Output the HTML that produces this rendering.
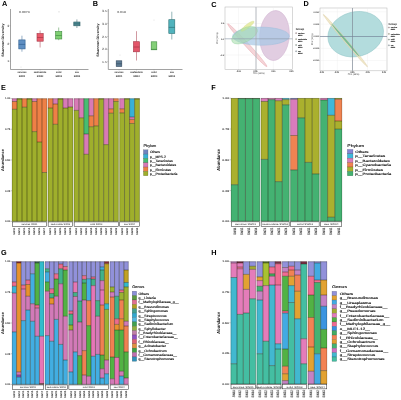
<!DOCTYPE html>
<html><head><meta charset="utf-8"><title>Figure</title>
<style>
html,body{margin:0;padding:0;background:#fff;}
body{width:401px;height:400px;overflow:hidden;}
svg{display:block;font-family:"Liberation Sans", sans-serif;filter:blur(0.33px);text-rendering:geometricPrecision;}
</style></head>
<body>
<svg width="401" height="400" viewBox="0 0 401 400">
<rect x="0" y="0" width="401" height="400" fill="#fff"/>
<text transform="translate(2.00 5.90)" font-size="7.3" fill="#000" text-anchor="start" font-weight="bold" >A</text>
<text transform="translate(92.80 6.30)" font-size="7.3" fill="#000" text-anchor="start" font-weight="bold" >B</text>
<text transform="translate(211.20 6.50)" font-size="7.3" fill="#000" text-anchor="start" font-weight="bold" >C</text>
<text transform="translate(303.50 6.30)" font-size="7.3" fill="#000" text-anchor="start" font-weight="bold" >D</text>
<text transform="translate(1.00 90.00)" font-size="7.3" fill="#000" text-anchor="start" font-weight="bold" >E</text>
<text transform="translate(211.20 90.00)" font-size="7.3" fill="#000" text-anchor="start" font-weight="bold" >F</text>
<text transform="translate(1.00 255.00)" font-size="7.3" fill="#000" text-anchor="start" font-weight="bold" >G</text>
<text transform="translate(211.20 254.80)" font-size="7.3" fill="#000" text-anchor="start" font-weight="bold" >H</text>
<line x1="10.50" y1="9.00" x2="10.50" y2="69.50" stroke="#8a8a8a" stroke-width="0.8" />
<line x1="10.50" y1="69.50" x2="88.50" y2="69.50" stroke="#8a8a8a" stroke-width="0.8" />
<line x1="9.50" y1="25.70" x2="10.50" y2="25.70" stroke="#8a8a8a" stroke-width="0.5" />
<text transform="translate(9.10 26.80) scale(1.120 1)" font-size="3.1" fill="#333" text-anchor="end" font-weight="normal" >3</text>
<line x1="9.50" y1="43.70" x2="10.50" y2="43.70" stroke="#8a8a8a" stroke-width="0.5" />
<text transform="translate(9.10 44.80) scale(1.120 1)" font-size="3.1" fill="#333" text-anchor="end" font-weight="normal" >2</text>
<line x1="9.50" y1="61.20" x2="10.50" y2="61.20" stroke="#8a8a8a" stroke-width="0.5" />
<text transform="translate(9.10 62.30) scale(1.120 1)" font-size="3.1" fill="#333" text-anchor="end" font-weight="normal" >1</text>
<text transform="translate(4.00 40.05) scale(0.900 1) rotate(-90)" font-size="3.8" fill="#1a1a1a" text-anchor="middle" font-weight="bold" >Shannon Diversity</text>
<text transform="translate(19.00 13.20) scale(1.200 1)" font-size="2.9" fill="#333" text-anchor="start" font-weight="normal" >0.0074</text>
<line x1="21.95" y1="35.70" x2="21.95" y2="39.90" stroke="#2f5f8f" stroke-width="0.5" />
<line x1="21.95" y1="48.90" x2="21.95" y2="51.70" stroke="#2f5f8f" stroke-width="0.5" />
<rect x="18.80" y="39.90" width="6.30" height="9.00" fill="#5f8fc2" stroke="#2f5f8f" stroke-width="0.6" />
<line x1="18.80" y1="44.40" x2="25.10" y2="44.40" stroke="#2f5f8f" stroke-width="0.65" />
<line x1="40.10" y1="30.50" x2="40.10" y2="33.50" stroke="#a33343" stroke-width="0.5" />
<line x1="40.10" y1="41.20" x2="40.10" y2="47.50" stroke="#a33343" stroke-width="0.5" />
<rect x="37.00" y="33.50" width="6.20" height="7.70" fill="#e85a6a" stroke="#a33343" stroke-width="0.6" />
<line x1="37.00" y1="37.50" x2="43.20" y2="37.50" stroke="#a33343" stroke-width="0.65" />
<line x1="58.70" y1="27.50" x2="58.70" y2="31.50" stroke="#3f8a3f" stroke-width="0.5" />
<line x1="58.70" y1="39.00" x2="58.70" y2="40.20" stroke="#3f8a3f" stroke-width="0.5" />
<rect x="55.60" y="31.50" width="6.20" height="7.50" fill="#7fcf72" stroke="#3f8a3f" stroke-width="0.6" />
<line x1="55.60" y1="35.50" x2="61.80" y2="35.50" stroke="#3f8a3f" stroke-width="0.65" />
<line x1="76.90" y1="19.40" x2="76.90" y2="22.00" stroke="#2c5a62" stroke-width="0.5" />
<line x1="76.90" y1="25.80" x2="76.90" y2="28.00" stroke="#2c5a62" stroke-width="0.5" />
<rect x="73.80" y="22.00" width="6.20" height="3.80" fill="#52909a" stroke="#2c5a62" stroke-width="0.6" />
<line x1="73.80" y1="23.90" x2="80.00" y2="23.90" stroke="#2c5a62" stroke-width="0.65" />
<line x1="21.90" y1="69.50" x2="21.90" y2="70.40" stroke="#8a8a8a" stroke-width="0.45" />
<text transform="translate(21.90 73.40) scale(0.900 1)" font-size="2.5" fill="#222" text-anchor="middle" font-weight="bold" >services</text>
<text transform="translate(21.90 76.60)" font-size="2.4" fill="#222" text-anchor="middle" font-weight="bold" >SW01</text>
<line x1="40.10" y1="69.50" x2="40.10" y2="70.40" stroke="#8a8a8a" stroke-width="0.45" />
<text transform="translate(40.10 73.40) scale(0.900 1)" font-size="2.5" fill="#222" text-anchor="middle" font-weight="bold" >seafoodsite</text>
<text transform="translate(40.10 76.60)" font-size="2.4" fill="#222" text-anchor="middle" font-weight="bold" >SW02</text>
<line x1="58.70" y1="69.50" x2="58.70" y2="70.40" stroke="#8a8a8a" stroke-width="0.45" />
<text transform="translate(58.70 73.40) scale(0.900 1)" font-size="2.5" fill="#222" text-anchor="middle" font-weight="bold" >solid</text>
<text transform="translate(58.70 76.60)" font-size="2.4" fill="#222" text-anchor="middle" font-weight="bold" >SW03</text>
<line x1="76.90" y1="69.50" x2="76.90" y2="70.40" stroke="#8a8a8a" stroke-width="0.45" />
<text transform="translate(76.90 73.40) scale(0.900 1)" font-size="2.5" fill="#222" text-anchor="middle" font-weight="bold" >sea</text>
<text transform="translate(76.90 76.60)" font-size="2.4" fill="#222" text-anchor="middle" font-weight="bold" >SW04</text>
<circle cx="59" cy="11.8" r="0.6" fill="#ccc"/>
<circle cx="21" cy="67" r="0.6" fill="#ddd"/>
<line x1="108.30" y1="9.00" x2="108.30" y2="69.50" stroke="#8a8a8a" stroke-width="0.8" />
<line x1="108.30" y1="69.50" x2="182.50" y2="69.50" stroke="#8a8a8a" stroke-width="0.8" />
<line x1="107.30" y1="11.00" x2="108.30" y2="11.00" stroke="#8a8a8a" stroke-width="0.5" />
<text transform="translate(106.90 12.10) scale(1.120 1)" font-size="3.1" fill="#333" text-anchor="end" font-weight="normal" >3.5</text>
<line x1="107.30" y1="23.40" x2="108.30" y2="23.40" stroke="#8a8a8a" stroke-width="0.5" />
<text transform="translate(106.90 24.50) scale(1.120 1)" font-size="3.1" fill="#333" text-anchor="end" font-weight="normal" >3.0</text>
<line x1="107.30" y1="36.50" x2="108.30" y2="36.50" stroke="#8a8a8a" stroke-width="0.5" />
<text transform="translate(106.90 37.60) scale(1.120 1)" font-size="3.1" fill="#333" text-anchor="end" font-weight="normal" >2.5</text>
<line x1="107.30" y1="49.30" x2="108.30" y2="49.30" stroke="#8a8a8a" stroke-width="0.5" />
<text transform="translate(106.90 50.40) scale(1.120 1)" font-size="3.1" fill="#333" text-anchor="end" font-weight="normal" >2.0</text>
<line x1="107.30" y1="61.70" x2="108.30" y2="61.70" stroke="#8a8a8a" stroke-width="0.5" />
<text transform="translate(106.90 62.80) scale(1.120 1)" font-size="3.1" fill="#333" text-anchor="end" font-weight="normal" >1.5</text>
<text transform="translate(98.80 40.05) scale(0.900 1) rotate(-90)" font-size="3.8" fill="#1a1a1a" text-anchor="middle" font-weight="bold" >Shannon Diversity</text>
<text transform="translate(117.20 13.40) scale(1.200 1)" font-size="2.9" fill="#333" text-anchor="start" font-weight="normal" >0.018</text>
<rect x="116.20" y="60.80" width="5.60" height="5.70" fill="#5d7b93" stroke="#34495e" stroke-width="0.6" />
<line x1="116.20" y1="63.80" x2="121.80" y2="63.80" stroke="#34495e" stroke-width="0.65" />
<line x1="136.50" y1="31.20" x2="136.50" y2="41.70" stroke="#a33343" stroke-width="0.5" />
<line x1="136.50" y1="51.80" x2="136.50" y2="60.50" stroke="#a33343" stroke-width="0.5" />
<rect x="133.50" y="41.70" width="6.00" height="10.10" fill="#e3566a" stroke="#a33343" stroke-width="0.6" />
<line x1="133.50" y1="47.00" x2="139.50" y2="47.00" stroke="#a33343" stroke-width="0.65" />
<rect x="151.20" y="41.80" width="5.60" height="8.00" fill="#84cf78" stroke="#3f8a3f" stroke-width="0.6" />
<line x1="151.20" y1="49.40" x2="156.80" y2="49.40" stroke="#3f8a3f" stroke-width="0.65" />
<line x1="171.80" y1="11.70" x2="171.80" y2="19.70" stroke="#2a6e72" stroke-width="0.5" />
<line x1="171.80" y1="33.50" x2="171.80" y2="39.50" stroke="#2a6e72" stroke-width="0.5" />
<rect x="168.80" y="19.70" width="6.00" height="13.80" fill="#50b3bd" stroke="#2a6e72" stroke-width="0.6" />
<line x1="168.80" y1="27.40" x2="174.80" y2="27.40" stroke="#2a6e72" stroke-width="0.65" />
<line x1="119.00" y1="69.50" x2="119.00" y2="70.40" stroke="#8a8a8a" stroke-width="0.45" />
<text transform="translate(119.00 73.40) scale(0.900 1)" font-size="2.5" fill="#222" text-anchor="middle" font-weight="bold" >services</text>
<text transform="translate(119.00 76.60)" font-size="2.4" fill="#222" text-anchor="middle" font-weight="bold" >SW01</text>
<line x1="136.50" y1="69.50" x2="136.50" y2="70.40" stroke="#8a8a8a" stroke-width="0.45" />
<text transform="translate(136.50 73.40) scale(0.900 1)" font-size="2.5" fill="#222" text-anchor="middle" font-weight="bold" >seafoodsite</text>
<text transform="translate(136.50 76.60)" font-size="2.4" fill="#222" text-anchor="middle" font-weight="bold" >SW02</text>
<line x1="154.00" y1="69.50" x2="154.00" y2="70.40" stroke="#8a8a8a" stroke-width="0.45" />
<text transform="translate(154.00 73.40) scale(0.900 1)" font-size="2.5" fill="#222" text-anchor="middle" font-weight="bold" >solid</text>
<text transform="translate(154.00 76.60)" font-size="2.4" fill="#222" text-anchor="middle" font-weight="bold" >SW03</text>
<line x1="171.75" y1="69.50" x2="171.75" y2="70.40" stroke="#8a8a8a" stroke-width="0.45" />
<text transform="translate(171.75 73.40) scale(0.900 1)" font-size="2.5" fill="#222" text-anchor="middle" font-weight="bold" >sea</text>
<text transform="translate(171.75 76.60)" font-size="2.4" fill="#222" text-anchor="middle" font-weight="bold" >SW04</text>
<circle cx="154" cy="20" r="0.6" fill="#ddd"/>
<circle cx="120" cy="55" r="0.6" fill="#ddd"/>
<rect x="225.00" y="7.00" width="67.50" height="62.50" fill="#fff" stroke="#b8b8b8" stroke-width="0.55" />
<line x1="238.50" y1="7.00" x2="238.50" y2="69.50" stroke="#ececec" stroke-width="0.35" />
<line x1="273.40" y1="7.00" x2="273.40" y2="69.50" stroke="#ececec" stroke-width="0.35" />
<line x1="225.00" y1="23.50" x2="292.50" y2="23.50" stroke="#ececec" stroke-width="0.35" />
<line x1="225.00" y1="55.00" x2="292.50" y2="55.00" stroke="#ececec" stroke-width="0.35" />
<g>
<ellipse cx="247.3" cy="45.2" rx="29" ry="1.9" fill="#f4d0d4" fill-opacity="0.9" stroke="#e8a6ae" stroke-width="0.5" transform="rotate(47.5 247.3 45.2)"/>
<ellipse cx="274.5" cy="35.5" rx="14.8" ry="25" fill="#dfcadf" fill-opacity="0.95" stroke="#cfb0cf" stroke-width="0.5" transform="rotate(4 274.5 35.5)"/>
<ellipse cx="261" cy="36.2" rx="28.4" ry="9.1" fill="#a6c8e6" fill-opacity="0.7" stroke="#98bcd8" stroke-width="0.4"/>
<ellipse cx="247.5" cy="26.2" rx="8" ry="1.9" fill="#e4ea9e" fill-opacity="0.9" stroke="#d2da88" stroke-width="0.4" transform="rotate(-37 247.5 26.2)"/>
<ellipse cx="244.5" cy="35.2" rx="14" ry="6.8" fill="#a2dca8" fill-opacity="0.55" stroke="#8ccf98" stroke-width="0.35" transform="rotate(-27 244.5 35.2)"/>
</g>
<line x1="256.00" y1="7.00" x2="256.00" y2="69.50" stroke="#b4b8be" stroke-width="1.0" />
<line x1="225.00" y1="38.80" x2="292.50" y2="38.80" stroke="#8f9cac" stroke-width="0.65" />
<line x1="224.20" y1="23.50" x2="225.00" y2="23.50" stroke="#999" stroke-width="0.4" />
<text transform="translate(223.80 24.25)" font-size="2.1" fill="#444" text-anchor="end" font-weight="normal" stroke="#444" stroke-width="0.08">0.2</text>
<line x1="224.20" y1="38.80" x2="225.00" y2="38.80" stroke="#999" stroke-width="0.4" />
<text transform="translate(223.80 39.55)" font-size="2.1" fill="#444" text-anchor="end" font-weight="normal" stroke="#444" stroke-width="0.08">0.0</text>
<line x1="224.20" y1="55.00" x2="225.00" y2="55.00" stroke="#999" stroke-width="0.4" />
<text transform="translate(223.80 55.75)" font-size="2.1" fill="#444" text-anchor="end" font-weight="normal" stroke="#444" stroke-width="0.08">-0.2</text>
<line x1="238.50" y1="69.50" x2="238.50" y2="70.30" stroke="#999" stroke-width="0.4" />
<text transform="translate(238.50 72.10)" font-size="2.0" fill="#444" text-anchor="middle" font-weight="normal" stroke="#444" stroke-width="0.08">-0.25</text>
<line x1="255.50" y1="69.50" x2="255.50" y2="70.30" stroke="#999" stroke-width="0.4" />
<text transform="translate(255.50 72.10)" font-size="2.0" fill="#444" text-anchor="middle" font-weight="normal" stroke="#444" stroke-width="0.08">0.00</text>
<line x1="273.40" y1="69.50" x2="273.40" y2="70.30" stroke="#999" stroke-width="0.4" />
<text transform="translate(273.40 72.10)" font-size="2.0" fill="#444" text-anchor="middle" font-weight="normal" stroke="#444" stroke-width="0.08">0.25</text>
<line x1="291.40" y1="69.50" x2="291.40" y2="70.30" stroke="#999" stroke-width="0.4" />
<text transform="translate(291.40 72.10)" font-size="2.0" fill="#444" text-anchor="middle" font-weight="normal" stroke="#444" stroke-width="0.08">0.50</text>
<text transform="translate(258.75 74.40)" font-size="2.4" fill="#444" text-anchor="middle" font-weight="normal" >PC1 (38%)</text>
<text transform="translate(218.30 38.25) rotate(-90)" font-size="2.4" fill="#444" text-anchor="middle" font-weight="normal" >PC2 (16%)</text>
<text transform="translate(295.80 30.00)" font-size="2.8" fill="#222" text-anchor="start" font-weight="bold" >Group</text>
<circle cx="296.10" cy="33.10" r="0.55" fill="#e05060" fill-opacity="0.4" stroke="#666" stroke-width="0.4"/>
<text transform="translate(298.00 33.70)" font-size="1.6" fill="#222" text-anchor="start" font-weight="bold" stroke="#222" stroke-width="0.1">services</text>
<text transform="translate(298.00 35.90)" font-size="1.6" fill="#222" text-anchor="start" font-weight="bold" stroke="#222" stroke-width="0.1">SW01</text>
<circle cx="296.10" cy="39.10" r="0.55" fill="#c0c030" fill-opacity="0.4" stroke="#666" stroke-width="0.4"/>
<text transform="translate(298.00 39.70)" font-size="1.6" fill="#222" text-anchor="start" font-weight="bold" stroke="#222" stroke-width="0.1">seafoodsite</text>
<text transform="translate(298.00 41.90)" font-size="1.6" fill="#222" text-anchor="start" font-weight="bold" stroke="#222" stroke-width="0.1">SW02</text>
<circle cx="296.10" cy="45.00" r="0.55" fill="#30a060" fill-opacity="0.4" stroke="#666" stroke-width="0.4"/>
<text transform="translate(298.00 45.60)" font-size="1.6" fill="#222" text-anchor="start" font-weight="bold" stroke="#222" stroke-width="0.1">solid</text>
<text transform="translate(298.00 47.80)" font-size="1.6" fill="#222" text-anchor="start" font-weight="bold" stroke="#222" stroke-width="0.1">SW03</text>
<circle cx="296.10" cy="51.20" r="0.55" fill="#4090c0" fill-opacity="0.4" stroke="#666" stroke-width="0.4"/>
<text transform="translate(298.00 51.80)" font-size="1.6" fill="#222" text-anchor="start" font-weight="bold" stroke="#222" stroke-width="0.1">sea</text>
<text transform="translate(298.00 54.00)" font-size="1.6" fill="#222" text-anchor="start" font-weight="bold" stroke="#222" stroke-width="0.1">SW04</text>
<rect x="320.00" y="8.00" width="67.00" height="62.80" fill="#fff" stroke="#b8b8b8" stroke-width="0.55" />
<line x1="323.20" y1="8.00" x2="323.20" y2="70.80" stroke="#ececec" stroke-width="0.35" />
<line x1="337.30" y1="8.00" x2="337.30" y2="70.80" stroke="#ececec" stroke-width="0.35" />
<line x1="352.40" y1="8.00" x2="352.40" y2="70.80" stroke="#ececec" stroke-width="0.35" />
<line x1="367.50" y1="8.00" x2="367.50" y2="70.80" stroke="#ececec" stroke-width="0.35" />
<line x1="320.00" y1="11.80" x2="387.00" y2="11.80" stroke="#ececec" stroke-width="0.35" />
<line x1="320.00" y1="24.20" x2="387.00" y2="24.20" stroke="#ececec" stroke-width="0.35" />
<line x1="320.00" y1="36.20" x2="387.00" y2="36.20" stroke="#ececec" stroke-width="0.35" />
<line x1="320.00" y1="48.40" x2="387.00" y2="48.40" stroke="#ececec" stroke-width="0.35" />
<line x1="320.00" y1="60.50" x2="387.00" y2="60.50" stroke="#ececec" stroke-width="0.35" />
<ellipse cx="355.7" cy="34.2" rx="28.2" ry="22.3" fill="#acd9da" fill-opacity="0.92" stroke="#90c4c6" stroke-width="0.5" transform="rotate(-15.3 355.7 34.2)"/>
<ellipse cx="345.4" cy="40.6" rx="34.2" ry="1.45" fill="#efe4c0" fill-opacity="0.85" stroke="#d9c9a0" stroke-width="0.4" transform="rotate(49.8 345.4 40.6)"/>
<ellipse cx="345.4" cy="40.2" rx="21.5" ry="1.0" fill="#5fb088" fill-opacity="0.8" transform="rotate(49.5 345.4 40.2)"/>
<line x1="352.50" y1="8.00" x2="352.50" y2="70.80" stroke="#7f8a96" stroke-width="0.7" />
<line x1="320.00" y1="36.50" x2="387.00" y2="36.50" stroke="#75859a" stroke-width="0.7" />
<line x1="319.20" y1="11.80" x2="320.00" y2="11.80" stroke="#999" stroke-width="0.4" />
<text transform="translate(318.80 12.55)" font-size="2.1" fill="#444" text-anchor="end" font-weight="normal" stroke="#444" stroke-width="0.08">0.010</text>
<line x1="319.20" y1="24.20" x2="320.00" y2="24.20" stroke="#999" stroke-width="0.4" />
<text transform="translate(318.80 24.95)" font-size="2.1" fill="#444" text-anchor="end" font-weight="normal" stroke="#444" stroke-width="0.08">0.005</text>
<line x1="319.20" y1="36.20" x2="320.00" y2="36.20" stroke="#999" stroke-width="0.4" />
<text transform="translate(318.80 36.95)" font-size="2.1" fill="#444" text-anchor="end" font-weight="normal" stroke="#444" stroke-width="0.08">0.000</text>
<line x1="319.20" y1="48.40" x2="320.00" y2="48.40" stroke="#999" stroke-width="0.4" />
<text transform="translate(318.80 49.15)" font-size="2.1" fill="#444" text-anchor="end" font-weight="normal" stroke="#444" stroke-width="0.08">-0.005</text>
<line x1="319.20" y1="60.50" x2="320.00" y2="60.50" stroke="#999" stroke-width="0.4" />
<text transform="translate(318.80 61.25)" font-size="2.1" fill="#444" text-anchor="end" font-weight="normal" stroke="#444" stroke-width="0.08">-0.010</text>
<line x1="321.70" y1="70.80" x2="321.70" y2="71.60" stroke="#999" stroke-width="0.4" />
<text transform="translate(321.70 73.40)" font-size="2.0" fill="#444" text-anchor="middle" font-weight="normal" stroke="#444" stroke-width="0.08">-0.02</text>
<line x1="336.60" y1="70.80" x2="336.60" y2="71.60" stroke="#999" stroke-width="0.4" />
<text transform="translate(336.60 73.40)" font-size="2.0" fill="#444" text-anchor="middle" font-weight="normal" stroke="#444" stroke-width="0.08">-0.01</text>
<line x1="352.40" y1="70.80" x2="352.40" y2="71.60" stroke="#999" stroke-width="0.4" />
<text transform="translate(352.40 73.40)" font-size="2.0" fill="#444" text-anchor="middle" font-weight="normal" stroke="#444" stroke-width="0.08">0.00</text>
<line x1="367.70" y1="70.80" x2="367.70" y2="71.60" stroke="#999" stroke-width="0.4" />
<text transform="translate(367.70 73.40)" font-size="2.0" fill="#444" text-anchor="middle" font-weight="normal" stroke="#444" stroke-width="0.08">0.01</text>
<line x1="384.00" y1="70.80" x2="384.00" y2="71.60" stroke="#999" stroke-width="0.4" />
<text transform="translate(384.00 73.40)" font-size="2.0" fill="#444" text-anchor="middle" font-weight="normal" stroke="#444" stroke-width="0.08">0.02</text>
<text transform="translate(353.50 75.20)" font-size="2.4" fill="#444" text-anchor="middle" font-weight="normal" >PC1 (38%)</text>
<text transform="translate(312.50 39.40) rotate(-90)" font-size="2.4" fill="#444" text-anchor="middle" font-weight="normal" >PC2 (16%)</text>
<text transform="translate(388.60 24.50)" font-size="2.8" fill="#222" text-anchor="start" font-weight="bold" >Group</text>
<circle cx="388.90" cy="27.50" r="0.55" fill="#e05060" fill-opacity="0.4" stroke="#666" stroke-width="0.4"/>
<text transform="translate(390.80 28.10)" font-size="1.6" fill="#222" text-anchor="start" font-weight="bold" stroke="#222" stroke-width="0.1">services</text>
<text transform="translate(390.80 30.30)" font-size="1.6" fill="#222" text-anchor="start" font-weight="bold" stroke="#222" stroke-width="0.1">SW01</text>
<circle cx="388.90" cy="33.90" r="0.55" fill="#c0c030" fill-opacity="0.4" stroke="#666" stroke-width="0.4"/>
<text transform="translate(390.80 34.50)" font-size="1.6" fill="#222" text-anchor="start" font-weight="bold" stroke="#222" stroke-width="0.1">seafoodsite</text>
<text transform="translate(390.80 36.70)" font-size="1.6" fill="#222" text-anchor="start" font-weight="bold" stroke="#222" stroke-width="0.1">SW02</text>
<circle cx="388.90" cy="39.60" r="0.55" fill="#30a060" fill-opacity="0.4" stroke="#666" stroke-width="0.4"/>
<text transform="translate(390.80 40.20)" font-size="1.6" fill="#222" text-anchor="start" font-weight="bold" stroke="#222" stroke-width="0.1">solid</text>
<text transform="translate(390.80 42.40)" font-size="1.6" fill="#222" text-anchor="start" font-weight="bold" stroke="#222" stroke-width="0.1">SW03</text>
<circle cx="388.90" cy="45.30" r="0.55" fill="#4090c0" fill-opacity="0.4" stroke="#666" stroke-width="0.4"/>
<text transform="translate(390.80 45.90)" font-size="1.6" fill="#222" text-anchor="start" font-weight="bold" stroke="#222" stroke-width="0.1">sea</text>
<text transform="translate(390.80 48.10)" font-size="1.6" fill="#222" text-anchor="start" font-weight="bold" stroke="#222" stroke-width="0.1">SW04</text>
<line x1="10.60" y1="98.50" x2="11.80" y2="98.50" stroke="#777" stroke-width="0.45" />
<text transform="translate(10.10 99.40)" font-size="2.6" fill="#555" text-anchor="end" font-weight="normal" stroke="#555" stroke-width="0.12">1.00</text>
<line x1="10.60" y1="129.25" x2="11.80" y2="129.25" stroke="#777" stroke-width="0.45" />
<text transform="translate(10.10 130.15)" font-size="2.6" fill="#555" text-anchor="end" font-weight="normal" stroke="#555" stroke-width="0.12">0.75</text>
<line x1="10.60" y1="160.00" x2="11.80" y2="160.00" stroke="#777" stroke-width="0.45" />
<text transform="translate(10.10 160.90)" font-size="2.6" fill="#555" text-anchor="end" font-weight="normal" stroke="#555" stroke-width="0.12">0.50</text>
<line x1="10.60" y1="190.75" x2="11.80" y2="190.75" stroke="#777" stroke-width="0.45" />
<text transform="translate(10.10 191.65)" font-size="2.6" fill="#555" text-anchor="end" font-weight="normal" stroke="#555" stroke-width="0.12">0.25</text>
<line x1="10.60" y1="221.50" x2="11.80" y2="221.50" stroke="#777" stroke-width="0.45" />
<text transform="translate(10.10 222.40)" font-size="2.6" fill="#555" text-anchor="end" font-weight="normal" stroke="#555" stroke-width="0.12">0.00</text>
<text transform="translate(3.60 160.00) rotate(-90)" font-size="4.0" fill="#111" text-anchor="middle" font-weight="bold" >Abundance</text>
<rect x="12.00" y="98.50" width="4.99" height="3.00" fill="#d87ab6" />
<rect x="12.00" y="101.50" width="4.99" height="7.80" fill="#ee8046" />
<rect x="12.00" y="109.30" width="4.99" height="112.20" fill="#9faf2c" />
<line x1="12.00" y1="101.50" x2="16.99" y2="101.50" stroke="rgba(20,20,0,0.55)" stroke-width="0.7" />
<line x1="12.00" y1="109.30" x2="16.99" y2="109.30" stroke="rgba(20,20,0,0.55)" stroke-width="0.7" />
<rect x="16.99" y="98.50" width="4.99" height="0.40" fill="#9faf2c" />
<rect x="16.99" y="98.90" width="4.99" height="122.60" fill="#9faf2c" />
<line x1="16.99" y1="98.90" x2="21.99" y2="98.90" stroke="rgba(20,20,0,0.55)" stroke-width="0.7" />
<rect x="21.99" y="98.50" width="4.99" height="8.70" fill="#ee8046" />
<rect x="21.99" y="107.20" width="4.99" height="114.30" fill="#9faf2c" />
<line x1="21.99" y1="107.20" x2="26.98" y2="107.20" stroke="rgba(20,20,0,0.55)" stroke-width="0.7" />
<rect x="26.98" y="98.50" width="4.99" height="0.40" fill="#9faf2c" />
<rect x="26.98" y="98.90" width="4.99" height="122.60" fill="#9faf2c" />
<line x1="26.98" y1="98.90" x2="31.97" y2="98.90" stroke="rgba(20,20,0,0.55)" stroke-width="0.7" />
<rect x="31.97" y="98.50" width="4.99" height="3.00" fill="#d87ab6" />
<rect x="31.97" y="101.50" width="4.99" height="30.10" fill="#ee8046" />
<rect x="31.97" y="131.60" width="4.99" height="89.90" fill="#9faf2c" />
<line x1="31.97" y1="101.50" x2="36.96" y2="101.50" stroke="rgba(20,20,0,0.55)" stroke-width="0.7" />
<line x1="31.97" y1="131.60" x2="36.96" y2="131.60" stroke="rgba(20,20,0,0.55)" stroke-width="0.7" />
<rect x="36.96" y="98.50" width="4.99" height="43.50" fill="#ee8046" />
<rect x="36.96" y="142.00" width="4.99" height="79.50" fill="#9faf2c" />
<line x1="36.96" y1="142.00" x2="41.96" y2="142.00" stroke="rgba(20,20,0,0.55)" stroke-width="0.7" />
<rect x="41.96" y="98.50" width="4.99" height="74.00" fill="#ee8046" />
<rect x="41.96" y="172.50" width="4.99" height="49.00" fill="#9faf2c" />
<line x1="41.96" y1="172.50" x2="46.95" y2="172.50" stroke="rgba(20,20,0,0.55)" stroke-width="0.7" />
<line x1="12.20" y1="98.50" x2="12.20" y2="221.50" stroke="rgba(20,20,0,0.55)" stroke-width="0.4" />
<line x1="16.99" y1="98.50" x2="16.99" y2="221.50" stroke="rgba(20,20,0,0.55)" stroke-width="0.75" />
<line x1="21.99" y1="98.50" x2="21.99" y2="221.50" stroke="rgba(20,20,0,0.55)" stroke-width="0.75" />
<line x1="26.98" y1="98.50" x2="26.98" y2="221.50" stroke="rgba(20,20,0,0.55)" stroke-width="0.75" />
<line x1="31.97" y1="98.50" x2="31.97" y2="221.50" stroke="rgba(20,20,0,0.55)" stroke-width="0.75" />
<line x1="36.96" y1="98.50" x2="36.96" y2="221.50" stroke="rgba(20,20,0,0.55)" stroke-width="0.75" />
<line x1="41.96" y1="98.50" x2="41.96" y2="221.50" stroke="rgba(20,20,0,0.55)" stroke-width="0.75" />
<line x1="46.75" y1="98.50" x2="46.75" y2="221.50" stroke="rgba(20,20,0,0.55)" stroke-width="0.4" />
<line x1="12.00" y1="98.75" x2="46.95" y2="98.75" stroke="rgba(20,20,0,0.55)" stroke-width="0.5" />
<line x1="12.00" y1="221.25" x2="46.95" y2="221.25" stroke="rgba(20,20,0,0.55)" stroke-width="0.5" />
<rect x="12.25" y="221.95" width="34.45" height="4.40" fill="#fff" stroke="#222" stroke-width="0.5" />
<text transform="translate(29.48 225.05) scale(0.950 1)" font-size="2.5" fill="#1a1a1a" text-anchor="middle" font-weight="normal" >services SW01</text>
<line x1="14.50" y1="226.40" x2="14.50" y2="227.20" stroke="#999" stroke-width="0.35" />
<text transform="translate(15.35 227.90) rotate(-90)" font-size="2.6" fill="#505050" text-anchor="end" font-weight="normal" stroke="#505050" stroke-width="0.12">SW11</text>
<line x1="19.49" y1="226.40" x2="19.49" y2="227.20" stroke="#999" stroke-width="0.35" />
<text transform="translate(20.34 227.90) rotate(-90)" font-size="2.6" fill="#505050" text-anchor="end" font-weight="normal" stroke="#505050" stroke-width="0.12">SW12</text>
<line x1="24.48" y1="226.40" x2="24.48" y2="227.20" stroke="#999" stroke-width="0.35" />
<text transform="translate(25.33 227.90) rotate(-90)" font-size="2.6" fill="#505050" text-anchor="end" font-weight="normal" stroke="#505050" stroke-width="0.12">SW13</text>
<line x1="29.48" y1="226.40" x2="29.48" y2="227.20" stroke="#999" stroke-width="0.35" />
<text transform="translate(30.33 227.90) rotate(-90)" font-size="2.6" fill="#505050" text-anchor="end" font-weight="normal" stroke="#505050" stroke-width="0.12">SW14</text>
<line x1="34.47" y1="226.40" x2="34.47" y2="227.20" stroke="#999" stroke-width="0.35" />
<text transform="translate(35.32 227.90) rotate(-90)" font-size="2.6" fill="#505050" text-anchor="end" font-weight="normal" stroke="#505050" stroke-width="0.12">SW15</text>
<line x1="39.46" y1="226.40" x2="39.46" y2="227.20" stroke="#999" stroke-width="0.35" />
<text transform="translate(40.31 227.90) rotate(-90)" font-size="2.6" fill="#505050" text-anchor="end" font-weight="normal" stroke="#505050" stroke-width="0.12">SW16</text>
<line x1="44.45" y1="226.40" x2="44.45" y2="227.20" stroke="#999" stroke-width="0.35" />
<text transform="translate(45.30 227.90) rotate(-90)" font-size="2.6" fill="#505050" text-anchor="end" font-weight="normal" stroke="#505050" stroke-width="0.12">SW17</text>
<rect x="47.90" y="98.50" width="5.01" height="9.50" fill="#ee8046" />
<rect x="47.90" y="108.00" width="5.01" height="113.50" fill="#9faf2c" />
<line x1="47.90" y1="108.00" x2="52.91" y2="108.00" stroke="rgba(20,20,0,0.55)" stroke-width="0.7" />
<rect x="52.91" y="98.50" width="5.01" height="5.50" fill="#d87ab6" />
<rect x="52.91" y="104.00" width="5.01" height="20.30" fill="#ee8046" />
<rect x="52.91" y="124.30" width="5.01" height="97.20" fill="#9faf2c" />
<line x1="52.91" y1="104.00" x2="57.92" y2="104.00" stroke="rgba(20,20,0,0.55)" stroke-width="0.7" />
<line x1="52.91" y1="124.30" x2="57.92" y2="124.30" stroke="rgba(20,20,0,0.55)" stroke-width="0.7" />
<rect x="57.92" y="98.50" width="5.01" height="0.40" fill="#9faf2c" />
<rect x="57.92" y="98.90" width="5.01" height="122.60" fill="#9faf2c" />
<line x1="57.92" y1="98.90" x2="62.93" y2="98.90" stroke="rgba(20,20,0,0.55)" stroke-width="0.7" />
<rect x="62.93" y="98.50" width="5.01" height="9.50" fill="#d87ab6" />
<rect x="62.93" y="108.00" width="5.01" height="113.50" fill="#9faf2c" />
<line x1="62.93" y1="108.00" x2="67.94" y2="108.00" stroke="rgba(20,20,0,0.55)" stroke-width="0.7" />
<rect x="67.94" y="98.50" width="5.01" height="8.50" fill="#d87ab6" />
<rect x="67.94" y="107.00" width="5.01" height="114.50" fill="#9faf2c" />
<line x1="67.94" y1="107.00" x2="72.95" y2="107.00" stroke="rgba(20,20,0,0.55)" stroke-width="0.7" />
<line x1="48.10" y1="98.50" x2="48.10" y2="221.50" stroke="rgba(20,20,0,0.55)" stroke-width="0.4" />
<line x1="52.91" y1="98.50" x2="52.91" y2="221.50" stroke="rgba(20,20,0,0.55)" stroke-width="0.75" />
<line x1="57.92" y1="98.50" x2="57.92" y2="221.50" stroke="rgba(20,20,0,0.55)" stroke-width="0.75" />
<line x1="62.93" y1="98.50" x2="62.93" y2="221.50" stroke="rgba(20,20,0,0.55)" stroke-width="0.75" />
<line x1="67.94" y1="98.50" x2="67.94" y2="221.50" stroke="rgba(20,20,0,0.55)" stroke-width="0.75" />
<line x1="72.75" y1="98.50" x2="72.75" y2="221.50" stroke="rgba(20,20,0,0.55)" stroke-width="0.4" />
<line x1="47.90" y1="98.75" x2="72.95" y2="98.75" stroke="rgba(20,20,0,0.55)" stroke-width="0.5" />
<line x1="47.90" y1="221.25" x2="72.95" y2="221.25" stroke="rgba(20,20,0,0.55)" stroke-width="0.5" />
<rect x="48.15" y="221.95" width="24.55" height="4.40" fill="#fff" stroke="#222" stroke-width="0.5" />
<text transform="translate(60.42 225.05) scale(0.950 1)" font-size="2.5" fill="#1a1a1a" text-anchor="middle" font-weight="normal" >seafoodsite SW02</text>
<line x1="50.41" y1="226.40" x2="50.41" y2="227.20" stroke="#999" stroke-width="0.35" />
<text transform="translate(51.26 227.90) rotate(-90)" font-size="2.6" fill="#505050" text-anchor="end" font-weight="normal" stroke="#505050" stroke-width="0.12">SW21</text>
<line x1="55.41" y1="226.40" x2="55.41" y2="227.20" stroke="#999" stroke-width="0.35" />
<text transform="translate(56.27 227.90) rotate(-90)" font-size="2.6" fill="#505050" text-anchor="end" font-weight="normal" stroke="#505050" stroke-width="0.12">SW22</text>
<line x1="60.42" y1="226.40" x2="60.42" y2="227.20" stroke="#999" stroke-width="0.35" />
<text transform="translate(61.27 227.90) rotate(-90)" font-size="2.6" fill="#505050" text-anchor="end" font-weight="normal" stroke="#505050" stroke-width="0.12">SW23</text>
<line x1="65.44" y1="226.40" x2="65.44" y2="227.20" stroke="#999" stroke-width="0.35" />
<text transform="translate(66.28 227.90) rotate(-90)" font-size="2.6" fill="#505050" text-anchor="end" font-weight="normal" stroke="#505050" stroke-width="0.12">SW24</text>
<line x1="70.44" y1="226.40" x2="70.44" y2="227.20" stroke="#999" stroke-width="0.35" />
<text transform="translate(71.29 227.90) rotate(-90)" font-size="2.6" fill="#505050" text-anchor="end" font-weight="normal" stroke="#505050" stroke-width="0.12">SW25</text>
<rect x="73.90" y="98.50" width="4.96" height="11.90" fill="#d87ab6" />
<rect x="73.90" y="110.40" width="4.96" height="111.10" fill="#9faf2c" />
<line x1="73.90" y1="110.40" x2="78.86" y2="110.40" stroke="rgba(20,20,0,0.55)" stroke-width="0.7" />
<rect x="78.86" y="98.50" width="4.96" height="19.30" fill="#d87ab6" />
<rect x="78.86" y="117.80" width="4.96" height="103.70" fill="#9faf2c" />
<line x1="78.86" y1="117.80" x2="83.82" y2="117.80" stroke="rgba(20,20,0,0.55)" stroke-width="0.7" />
<rect x="83.82" y="98.50" width="4.96" height="35.50" fill="#46bd72" />
<rect x="83.82" y="134.00" width="4.96" height="20.30" fill="#d87ab6" />
<rect x="83.82" y="154.30" width="4.96" height="67.20" fill="#9faf2c" />
<line x1="83.82" y1="134.00" x2="88.78" y2="134.00" stroke="rgba(20,20,0,0.55)" stroke-width="0.7" />
<line x1="83.82" y1="154.30" x2="88.78" y2="154.30" stroke="rgba(20,20,0,0.55)" stroke-width="0.7" />
<rect x="88.78" y="98.50" width="4.96" height="17.30" fill="#d87ab6" />
<rect x="88.78" y="115.80" width="4.96" height="10.90" fill="#ee8046" />
<rect x="88.78" y="126.70" width="4.96" height="94.80" fill="#9faf2c" />
<line x1="88.78" y1="115.80" x2="93.74" y2="115.80" stroke="rgba(20,20,0,0.55)" stroke-width="0.7" />
<line x1="88.78" y1="126.70" x2="93.74" y2="126.70" stroke="rgba(20,20,0,0.55)" stroke-width="0.7" />
<rect x="93.74" y="98.50" width="4.96" height="27.40" fill="#ee8046" />
<rect x="93.74" y="125.90" width="4.96" height="95.60" fill="#9faf2c" />
<line x1="93.74" y1="125.90" x2="98.71" y2="125.90" stroke="rgba(20,20,0,0.55)" stroke-width="0.7" />
<rect x="98.71" y="98.50" width="4.96" height="0.40" fill="#9faf2c" />
<rect x="98.71" y="98.90" width="4.96" height="122.60" fill="#9faf2c" />
<line x1="98.71" y1="98.90" x2="103.67" y2="98.90" stroke="rgba(20,20,0,0.55)" stroke-width="0.7" />
<rect x="103.67" y="98.50" width="4.96" height="46.10" fill="#d87ab6" />
<rect x="103.67" y="144.60" width="4.96" height="76.90" fill="#9faf2c" />
<line x1="103.67" y1="144.60" x2="108.63" y2="144.60" stroke="rgba(20,20,0,0.55)" stroke-width="0.7" />
<rect x="108.63" y="98.50" width="4.96" height="10.30" fill="#d87ab6" />
<rect x="108.63" y="108.80" width="4.96" height="4.40" fill="#ee8046" />
<rect x="108.63" y="113.20" width="4.96" height="108.30" fill="#9faf2c" />
<line x1="108.63" y1="108.80" x2="113.59" y2="108.80" stroke="rgba(20,20,0,0.55)" stroke-width="0.7" />
<line x1="108.63" y1="113.20" x2="113.59" y2="113.20" stroke="rgba(20,20,0,0.55)" stroke-width="0.7" />
<rect x="113.59" y="98.50" width="4.96" height="3.00" fill="#ee8046" />
<rect x="113.59" y="101.50" width="4.96" height="120.00" fill="#9faf2c" />
<line x1="113.59" y1="101.50" x2="118.55" y2="101.50" stroke="rgba(20,20,0,0.55)" stroke-width="0.7" />
<line x1="74.10" y1="98.50" x2="74.10" y2="221.50" stroke="rgba(20,20,0,0.55)" stroke-width="0.4" />
<line x1="78.86" y1="98.50" x2="78.86" y2="221.50" stroke="rgba(20,20,0,0.55)" stroke-width="0.75" />
<line x1="83.82" y1="98.50" x2="83.82" y2="221.50" stroke="rgba(20,20,0,0.55)" stroke-width="0.75" />
<line x1="88.78" y1="98.50" x2="88.78" y2="221.50" stroke="rgba(20,20,0,0.55)" stroke-width="0.75" />
<line x1="93.74" y1="98.50" x2="93.74" y2="221.50" stroke="rgba(20,20,0,0.55)" stroke-width="0.75" />
<line x1="98.71" y1="98.50" x2="98.71" y2="221.50" stroke="rgba(20,20,0,0.55)" stroke-width="0.75" />
<line x1="103.67" y1="98.50" x2="103.67" y2="221.50" stroke="rgba(20,20,0,0.55)" stroke-width="0.75" />
<line x1="108.63" y1="98.50" x2="108.63" y2="221.50" stroke="rgba(20,20,0,0.55)" stroke-width="0.75" />
<line x1="113.59" y1="98.50" x2="113.59" y2="221.50" stroke="rgba(20,20,0,0.55)" stroke-width="0.75" />
<line x1="118.35" y1="98.50" x2="118.35" y2="221.50" stroke="rgba(20,20,0,0.55)" stroke-width="0.4" />
<line x1="73.90" y1="98.75" x2="118.55" y2="98.75" stroke="rgba(20,20,0,0.55)" stroke-width="0.5" />
<line x1="73.90" y1="221.25" x2="118.55" y2="221.25" stroke="rgba(20,20,0,0.55)" stroke-width="0.5" />
<rect x="74.15" y="221.95" width="44.15" height="4.40" fill="#fff" stroke="#222" stroke-width="0.5" />
<text transform="translate(96.22 225.05) scale(0.950 1)" font-size="2.5" fill="#1a1a1a" text-anchor="middle" font-weight="normal" >solid SW03</text>
<line x1="76.38" y1="226.40" x2="76.38" y2="227.20" stroke="#999" stroke-width="0.35" />
<text transform="translate(77.23 227.90) rotate(-90)" font-size="2.6" fill="#505050" text-anchor="end" font-weight="normal" stroke="#505050" stroke-width="0.12">SW31</text>
<line x1="81.34" y1="226.40" x2="81.34" y2="227.20" stroke="#999" stroke-width="0.35" />
<text transform="translate(82.19 227.90) rotate(-90)" font-size="2.6" fill="#505050" text-anchor="end" font-weight="normal" stroke="#505050" stroke-width="0.12">SW32</text>
<line x1="86.30" y1="226.40" x2="86.30" y2="227.20" stroke="#999" stroke-width="0.35" />
<text transform="translate(87.15 227.90) rotate(-90)" font-size="2.6" fill="#505050" text-anchor="end" font-weight="normal" stroke="#505050" stroke-width="0.12">SW33</text>
<line x1="91.26" y1="226.40" x2="91.26" y2="227.20" stroke="#999" stroke-width="0.35" />
<text transform="translate(92.11 227.90) rotate(-90)" font-size="2.6" fill="#505050" text-anchor="end" font-weight="normal" stroke="#505050" stroke-width="0.12">SW34</text>
<line x1="96.22" y1="226.40" x2="96.22" y2="227.20" stroke="#999" stroke-width="0.35" />
<text transform="translate(97.07 227.90) rotate(-90)" font-size="2.6" fill="#505050" text-anchor="end" font-weight="normal" stroke="#505050" stroke-width="0.12">SW35</text>
<line x1="101.19" y1="226.40" x2="101.19" y2="227.20" stroke="#999" stroke-width="0.35" />
<text transform="translate(102.04 227.90) rotate(-90)" font-size="2.6" fill="#505050" text-anchor="end" font-weight="normal" stroke="#505050" stroke-width="0.12">SW36</text>
<line x1="106.15" y1="226.40" x2="106.15" y2="227.20" stroke="#999" stroke-width="0.35" />
<text transform="translate(107.00 227.90) rotate(-90)" font-size="2.6" fill="#505050" text-anchor="end" font-weight="normal" stroke="#505050" stroke-width="0.12">SW37</text>
<line x1="111.11" y1="226.40" x2="111.11" y2="227.20" stroke="#999" stroke-width="0.35" />
<text transform="translate(111.96 227.90) rotate(-90)" font-size="2.6" fill="#505050" text-anchor="end" font-weight="normal" stroke="#505050" stroke-width="0.12">SW38</text>
<line x1="116.07" y1="226.40" x2="116.07" y2="227.20" stroke="#999" stroke-width="0.35" />
<text transform="translate(116.92 227.90) rotate(-90)" font-size="2.6" fill="#505050" text-anchor="end" font-weight="normal" stroke="#505050" stroke-width="0.12">SW39</text>
<rect x="119.50" y="98.50" width="5.04" height="10.30" fill="#d87ab6" />
<rect x="119.50" y="108.80" width="5.04" height="4.10" fill="#ee8046" />
<rect x="119.50" y="112.90" width="5.04" height="108.60" fill="#9faf2c" />
<line x1="119.50" y1="108.80" x2="124.54" y2="108.80" stroke="rgba(20,20,0,0.55)" stroke-width="0.7" />
<line x1="119.50" y1="112.90" x2="124.54" y2="112.90" stroke="rgba(20,20,0,0.55)" stroke-width="0.7" />
<rect x="124.54" y="98.50" width="5.04" height="0.40" fill="#9faf2c" />
<rect x="124.54" y="98.90" width="5.04" height="122.60" fill="#9faf2c" />
<line x1="124.54" y1="98.90" x2="129.57" y2="98.90" stroke="rgba(20,20,0,0.55)" stroke-width="0.7" />
<rect x="129.57" y="98.50" width="5.04" height="18.50" fill="#38b0d6" />
<rect x="129.57" y="117.00" width="5.04" height="2.40" fill="#d87ab6" />
<rect x="129.57" y="119.40" width="5.04" height="4.10" fill="#ee8046" />
<rect x="129.57" y="123.50" width="5.04" height="98.00" fill="#9faf2c" />
<line x1="129.57" y1="117.00" x2="134.61" y2="117.00" stroke="rgba(20,20,0,0.55)" stroke-width="0.7" />
<line x1="129.57" y1="119.40" x2="134.61" y2="119.40" stroke="rgba(20,20,0,0.55)" stroke-width="0.7" />
<line x1="129.57" y1="123.50" x2="134.61" y2="123.50" stroke="rgba(20,20,0,0.55)" stroke-width="0.7" />
<rect x="134.61" y="98.50" width="5.04" height="0.40" fill="#9faf2c" />
<rect x="134.61" y="98.90" width="5.04" height="122.60" fill="#9faf2c" />
<line x1="134.61" y1="98.90" x2="139.65" y2="98.90" stroke="rgba(20,20,0,0.55)" stroke-width="0.7" />
<line x1="119.70" y1="98.50" x2="119.70" y2="221.50" stroke="rgba(20,20,0,0.55)" stroke-width="0.4" />
<line x1="124.54" y1="98.50" x2="124.54" y2="221.50" stroke="rgba(20,20,0,0.55)" stroke-width="0.75" />
<line x1="129.57" y1="98.50" x2="129.57" y2="221.50" stroke="rgba(20,20,0,0.55)" stroke-width="0.75" />
<line x1="134.61" y1="98.50" x2="134.61" y2="221.50" stroke="rgba(20,20,0,0.55)" stroke-width="0.75" />
<line x1="139.45" y1="98.50" x2="139.45" y2="221.50" stroke="rgba(20,20,0,0.55)" stroke-width="0.4" />
<line x1="119.50" y1="98.75" x2="139.65" y2="98.75" stroke="rgba(20,20,0,0.55)" stroke-width="0.5" />
<line x1="119.50" y1="221.25" x2="139.65" y2="221.25" stroke="rgba(20,20,0,0.55)" stroke-width="0.5" />
<rect x="119.75" y="221.95" width="19.65" height="4.40" fill="#fff" stroke="#222" stroke-width="0.5" />
<text transform="translate(129.57 225.05) scale(0.950 1)" font-size="2.5" fill="#1a1a1a" text-anchor="middle" font-weight="normal" >sea SW04</text>
<line x1="122.02" y1="226.40" x2="122.02" y2="227.20" stroke="#999" stroke-width="0.35" />
<text transform="translate(122.87 227.90) rotate(-90)" font-size="2.6" fill="#505050" text-anchor="end" font-weight="normal" stroke="#505050" stroke-width="0.12">SW41</text>
<line x1="127.06" y1="226.40" x2="127.06" y2="227.20" stroke="#999" stroke-width="0.35" />
<text transform="translate(127.91 227.90) rotate(-90)" font-size="2.6" fill="#505050" text-anchor="end" font-weight="normal" stroke="#505050" stroke-width="0.12">SW42</text>
<line x1="132.09" y1="226.40" x2="132.09" y2="227.20" stroke="#999" stroke-width="0.35" />
<text transform="translate(132.94 227.90) rotate(-90)" font-size="2.6" fill="#505050" text-anchor="end" font-weight="normal" stroke="#505050" stroke-width="0.12">SW43</text>
<line x1="137.13" y1="226.40" x2="137.13" y2="227.20" stroke="#999" stroke-width="0.35" />
<text transform="translate(137.98 227.90) rotate(-90)" font-size="2.6" fill="#505050" text-anchor="end" font-weight="normal" stroke="#505050" stroke-width="0.12">SW44</text>
<text transform="translate(143.40 147.20) scale(1.020 1)" font-size="3.8" fill="#2a2a2a" text-anchor="start" font-weight="normal" stroke="#2a2a2a" stroke-width="0.15">Phylum</text>
<rect x="143.40" y="149.80" width="4.60" height="4.32" fill="#6f85bf" stroke="rgba(0,0,0,0.4)" stroke-width="0.35" />
<text transform="translate(149.90 153.26) scale(1.020 1)" font-size="3.3" fill="#1e1e1e" text-anchor="start" font-weight="normal" stroke="#1e1e1e" stroke-width="0.15">Others</text>
<rect x="143.40" y="154.12" width="4.60" height="4.32" fill="#38b0d6" stroke="rgba(0,0,0,0.4)" stroke-width="0.35" />
<text transform="translate(149.90 157.58) scale(1.020 1)" font-size="3.3" fill="#1e1e1e" text-anchor="start" font-weight="normal" stroke="#1e1e1e" stroke-width="0.15">p__MPS-2</text>
<rect x="143.40" y="158.44" width="4.60" height="4.32" fill="#46bd72" stroke="rgba(0,0,0,0.4)" stroke-width="0.35" />
<text transform="translate(149.90 161.90) scale(1.020 1)" font-size="3.3" fill="#1e1e1e" text-anchor="start" font-weight="normal" stroke="#1e1e1e" stroke-width="0.15">p__Tenericutes</text>
<rect x="143.40" y="162.76" width="4.60" height="4.32" fill="#d87ab6" stroke="rgba(0,0,0,0.4)" stroke-width="0.35" />
<text transform="translate(149.90 166.22) scale(1.020 1)" font-size="3.3" fill="#1e1e1e" text-anchor="start" font-weight="normal" stroke="#1e1e1e" stroke-width="0.15">p__Bacteroidetes</text>
<rect x="143.40" y="167.08" width="4.60" height="4.32" fill="#ee8046" stroke="rgba(0,0,0,0.4)" stroke-width="0.35" />
<text transform="translate(149.90 170.54) scale(1.020 1)" font-size="3.3" fill="#1e1e1e" text-anchor="start" font-weight="normal" stroke="#1e1e1e" stroke-width="0.15">p__Firmicutes</text>
<rect x="143.40" y="171.40" width="4.60" height="4.32" fill="#9faf2c" stroke="rgba(0,0,0,0.4)" stroke-width="0.35" />
<text transform="translate(149.90 174.86) scale(1.020 1)" font-size="3.3" fill="#1e1e1e" text-anchor="start" font-weight="normal" stroke="#1e1e1e" stroke-width="0.15">p__Proteobacteria</text>
<line x1="229.60" y1="98.20" x2="230.80" y2="98.20" stroke="#777" stroke-width="0.45" />
<text transform="translate(229.10 99.10) scale(1.330 1)" font-size="2.6" fill="#555" text-anchor="end" font-weight="normal" stroke="#555" stroke-width="0.12">1.00</text>
<line x1="229.60" y1="129.00" x2="230.80" y2="129.00" stroke="#777" stroke-width="0.45" />
<text transform="translate(229.10 129.90) scale(1.330 1)" font-size="2.6" fill="#555" text-anchor="end" font-weight="normal" stroke="#555" stroke-width="0.12">0.75</text>
<line x1="229.60" y1="159.80" x2="230.80" y2="159.80" stroke="#777" stroke-width="0.45" />
<text transform="translate(229.10 160.70) scale(1.330 1)" font-size="2.6" fill="#555" text-anchor="end" font-weight="normal" stroke="#555" stroke-width="0.12">0.50</text>
<line x1="229.60" y1="190.60" x2="230.80" y2="190.60" stroke="#777" stroke-width="0.45" />
<text transform="translate(229.10 191.50) scale(1.330 1)" font-size="2.6" fill="#555" text-anchor="end" font-weight="normal" stroke="#555" stroke-width="0.12">0.25</text>
<line x1="229.60" y1="221.40" x2="230.80" y2="221.40" stroke="#777" stroke-width="0.45" />
<text transform="translate(229.10 222.30) scale(1.330 1)" font-size="2.6" fill="#555" text-anchor="end" font-weight="normal" stroke="#555" stroke-width="0.12">0.00</text>
<text transform="translate(219.80 159.80) scale(1.100 1) rotate(-90)" font-size="4.0" fill="#111" text-anchor="middle" font-weight="bold" >Abundance</text>
<rect x="231.00" y="98.20" width="7.22" height="86.50" fill="#aab02e" />
<rect x="231.00" y="184.70" width="7.22" height="36.70" fill="#44b272" />
<line x1="231.00" y1="184.70" x2="238.22" y2="184.70" stroke="rgba(20,20,0,0.55)" stroke-width="0.7" />
<rect x="238.22" y="98.20" width="7.22" height="0.40" fill="#44b272" />
<rect x="238.22" y="98.60" width="7.22" height="122.80" fill="#44b272" />
<line x1="238.22" y1="98.60" x2="245.45" y2="98.60" stroke="rgba(20,20,0,0.55)" stroke-width="0.7" />
<rect x="245.45" y="98.20" width="7.22" height="0.40" fill="#44b272" />
<rect x="245.45" y="98.60" width="7.22" height="122.80" fill="#44b272" />
<line x1="245.45" y1="98.60" x2="252.67" y2="98.60" stroke="rgba(20,20,0,0.55)" stroke-width="0.7" />
<rect x="252.67" y="98.20" width="7.22" height="0.40" fill="#44b272" />
<rect x="252.67" y="98.60" width="7.22" height="122.80" fill="#44b272" />
<line x1="252.67" y1="98.60" x2="259.90" y2="98.60" stroke="rgba(20,20,0,0.55)" stroke-width="0.7" />
<line x1="231.20" y1="98.20" x2="231.20" y2="221.40" stroke="rgba(20,20,0,0.55)" stroke-width="0.4" />
<line x1="238.22" y1="98.20" x2="238.22" y2="221.40" stroke="rgba(20,20,0,0.55)" stroke-width="0.75" />
<line x1="245.45" y1="98.20" x2="245.45" y2="221.40" stroke="rgba(20,20,0,0.55)" stroke-width="0.75" />
<line x1="252.67" y1="98.20" x2="252.67" y2="221.40" stroke="rgba(20,20,0,0.55)" stroke-width="0.75" />
<line x1="259.70" y1="98.20" x2="259.70" y2="221.40" stroke="rgba(20,20,0,0.55)" stroke-width="0.4" />
<line x1="231.00" y1="98.45" x2="259.90" y2="98.45" stroke="rgba(20,20,0,0.55)" stroke-width="0.5" />
<line x1="231.00" y1="221.15" x2="259.90" y2="221.15" stroke="rgba(20,20,0,0.55)" stroke-width="0.5" />
<rect x="231.25" y="221.85" width="28.40" height="4.40" fill="#fff" stroke="#222" stroke-width="0.5" />
<text transform="translate(245.45 224.95) scale(1.264 1)" font-size="2.5" fill="#1a1a1a" text-anchor="middle" font-weight="normal" >services SW01</text>
<line x1="234.61" y1="226.30" x2="234.61" y2="227.10" stroke="#999" stroke-width="0.35" />
<text transform="translate(235.74 227.80) scale(1.330 1) rotate(-90)" font-size="2.6" fill="#505050" text-anchor="end" font-weight="normal" stroke="#505050" stroke-width="0.12">SW11</text>
<line x1="241.84" y1="226.30" x2="241.84" y2="227.10" stroke="#999" stroke-width="0.35" />
<text transform="translate(242.97 227.80) scale(1.330 1) rotate(-90)" font-size="2.6" fill="#505050" text-anchor="end" font-weight="normal" stroke="#505050" stroke-width="0.12">SW12</text>
<line x1="249.06" y1="226.30" x2="249.06" y2="227.10" stroke="#999" stroke-width="0.35" />
<text transform="translate(250.19 227.80) scale(1.330 1) rotate(-90)" font-size="2.6" fill="#505050" text-anchor="end" font-weight="normal" stroke="#505050" stroke-width="0.12">SW13</text>
<line x1="256.29" y1="226.30" x2="256.29" y2="227.10" stroke="#999" stroke-width="0.35" />
<text transform="translate(257.42 227.80) scale(1.330 1) rotate(-90)" font-size="2.6" fill="#505050" text-anchor="end" font-weight="normal" stroke="#505050" stroke-width="0.12">SW14</text>
<rect x="260.90" y="98.20" width="7.12" height="3.30" fill="#d97cbc" />
<rect x="260.90" y="101.50" width="7.12" height="57.90" fill="#aab02e" />
<rect x="260.90" y="159.40" width="7.12" height="62.00" fill="#44b272" />
<line x1="260.90" y1="101.50" x2="268.02" y2="101.50" stroke="rgba(20,20,0,0.55)" stroke-width="0.7" />
<line x1="260.90" y1="159.40" x2="268.02" y2="159.40" stroke="rgba(20,20,0,0.55)" stroke-width="0.7" />
<rect x="268.02" y="98.20" width="7.12" height="1.40" fill="#d97cbc" />
<rect x="268.02" y="99.60" width="7.12" height="121.80" fill="#44b272" />
<line x1="268.02" y1="99.60" x2="275.15" y2="99.60" stroke="rgba(20,20,0,0.55)" stroke-width="0.7" />
<rect x="275.15" y="98.20" width="7.12" height="2.50" fill="#d97cbc" />
<rect x="275.15" y="100.70" width="7.12" height="80.90" fill="#aab02e" />
<rect x="275.15" y="181.60" width="7.12" height="39.80" fill="#44b272" />
<line x1="275.15" y1="100.70" x2="282.27" y2="100.70" stroke="rgba(20,20,0,0.55)" stroke-width="0.7" />
<line x1="275.15" y1="181.60" x2="282.27" y2="181.60" stroke="rgba(20,20,0,0.55)" stroke-width="0.7" />
<rect x="282.27" y="98.20" width="7.12" height="1.40" fill="#3fb8da" />
<rect x="282.27" y="99.60" width="7.12" height="5.20" fill="#aab02e" />
<rect x="282.27" y="104.80" width="7.12" height="116.60" fill="#44b272" />
<line x1="282.27" y1="99.60" x2="289.40" y2="99.60" stroke="rgba(20,20,0,0.55)" stroke-width="0.7" />
<line x1="282.27" y1="104.80" x2="289.40" y2="104.80" stroke="rgba(20,20,0,0.55)" stroke-width="0.7" />
<line x1="261.10" y1="98.20" x2="261.10" y2="221.40" stroke="rgba(20,20,0,0.55)" stroke-width="0.4" />
<line x1="268.02" y1="98.20" x2="268.02" y2="221.40" stroke="rgba(20,20,0,0.55)" stroke-width="0.75" />
<line x1="275.15" y1="98.20" x2="275.15" y2="221.40" stroke="rgba(20,20,0,0.55)" stroke-width="0.75" />
<line x1="282.27" y1="98.20" x2="282.27" y2="221.40" stroke="rgba(20,20,0,0.55)" stroke-width="0.75" />
<line x1="289.20" y1="98.20" x2="289.20" y2="221.40" stroke="rgba(20,20,0,0.55)" stroke-width="0.4" />
<line x1="260.90" y1="98.45" x2="289.40" y2="98.45" stroke="rgba(20,20,0,0.55)" stroke-width="0.5" />
<line x1="260.90" y1="221.15" x2="289.40" y2="221.15" stroke="rgba(20,20,0,0.55)" stroke-width="0.5" />
<rect x="261.15" y="221.85" width="28.00" height="4.40" fill="#fff" stroke="#222" stroke-width="0.5" />
<text transform="translate(275.15 224.95) scale(1.264 1)" font-size="2.5" fill="#1a1a1a" text-anchor="middle" font-weight="normal" >seafoodsite SW02</text>
<line x1="264.46" y1="226.30" x2="264.46" y2="227.10" stroke="#999" stroke-width="0.35" />
<text transform="translate(265.59 227.80) scale(1.330 1) rotate(-90)" font-size="2.6" fill="#505050" text-anchor="end" font-weight="normal" stroke="#505050" stroke-width="0.12">SW21</text>
<line x1="271.59" y1="226.30" x2="271.59" y2="227.10" stroke="#999" stroke-width="0.35" />
<text transform="translate(272.72 227.80) scale(1.330 1) rotate(-90)" font-size="2.6" fill="#505050" text-anchor="end" font-weight="normal" stroke="#505050" stroke-width="0.12">SW22</text>
<line x1="278.71" y1="226.30" x2="278.71" y2="227.10" stroke="#999" stroke-width="0.35" />
<text transform="translate(279.84 227.80) scale(1.330 1) rotate(-90)" font-size="2.6" fill="#505050" text-anchor="end" font-weight="normal" stroke="#505050" stroke-width="0.12">SW23</text>
<line x1="285.84" y1="226.30" x2="285.84" y2="227.10" stroke="#999" stroke-width="0.35" />
<text transform="translate(286.97 227.80) scale(1.330 1) rotate(-90)" font-size="2.6" fill="#505050" text-anchor="end" font-weight="normal" stroke="#505050" stroke-width="0.12">SW24</text>
<rect x="290.40" y="98.20" width="7.25" height="1.10" fill="#8585d6" />
<rect x="290.40" y="99.30" width="7.25" height="36.20" fill="#d97cbc" />
<rect x="290.40" y="135.50" width="7.25" height="34.40" fill="#f08352" />
<rect x="290.40" y="169.90" width="7.25" height="51.50" fill="#44b272" />
<line x1="290.40" y1="99.30" x2="297.65" y2="99.30" stroke="rgba(20,20,0,0.55)" stroke-width="0.7" />
<line x1="290.40" y1="135.50" x2="297.65" y2="135.50" stroke="rgba(20,20,0,0.55)" stroke-width="0.7" />
<line x1="290.40" y1="169.90" x2="297.65" y2="169.90" stroke="rgba(20,20,0,0.55)" stroke-width="0.7" />
<rect x="297.65" y="98.20" width="7.25" height="19.60" fill="#aab02e" />
<rect x="297.65" y="117.80" width="7.25" height="103.60" fill="#44b272" />
<line x1="297.65" y1="117.80" x2="304.90" y2="117.80" stroke="rgba(20,20,0,0.55)" stroke-width="0.7" />
<rect x="304.90" y="98.20" width="7.25" height="64.20" fill="#aab02e" />
<rect x="304.90" y="162.40" width="7.25" height="59.00" fill="#44b272" />
<line x1="304.90" y1="162.40" x2="312.15" y2="162.40" stroke="rgba(20,20,0,0.55)" stroke-width="0.7" />
<rect x="312.15" y="98.20" width="7.25" height="75.70" fill="#aab02e" />
<rect x="312.15" y="173.90" width="7.25" height="47.50" fill="#44b272" />
<line x1="312.15" y1="173.90" x2="319.40" y2="173.90" stroke="rgba(20,20,0,0.55)" stroke-width="0.7" />
<line x1="290.60" y1="98.20" x2="290.60" y2="221.40" stroke="rgba(20,20,0,0.55)" stroke-width="0.4" />
<line x1="297.65" y1="98.20" x2="297.65" y2="221.40" stroke="rgba(20,20,0,0.55)" stroke-width="0.75" />
<line x1="304.90" y1="98.20" x2="304.90" y2="221.40" stroke="rgba(20,20,0,0.55)" stroke-width="0.75" />
<line x1="312.15" y1="98.20" x2="312.15" y2="221.40" stroke="rgba(20,20,0,0.55)" stroke-width="0.75" />
<line x1="319.20" y1="98.20" x2="319.20" y2="221.40" stroke="rgba(20,20,0,0.55)" stroke-width="0.4" />
<line x1="290.40" y1="98.45" x2="319.40" y2="98.45" stroke="rgba(20,20,0,0.55)" stroke-width="0.5" />
<line x1="290.40" y1="221.15" x2="319.40" y2="221.15" stroke="rgba(20,20,0,0.55)" stroke-width="0.5" />
<rect x="290.65" y="221.85" width="28.50" height="4.40" fill="#fff" stroke="#222" stroke-width="0.5" />
<text transform="translate(304.90 224.95) scale(1.264 1)" font-size="2.5" fill="#1a1a1a" text-anchor="middle" font-weight="normal" >solid SW03</text>
<line x1="294.02" y1="226.30" x2="294.02" y2="227.10" stroke="#999" stroke-width="0.35" />
<text transform="translate(295.16 227.80) scale(1.330 1) rotate(-90)" font-size="2.6" fill="#505050" text-anchor="end" font-weight="normal" stroke="#505050" stroke-width="0.12">SW31</text>
<line x1="301.27" y1="226.30" x2="301.27" y2="227.10" stroke="#999" stroke-width="0.35" />
<text transform="translate(302.41 227.80) scale(1.330 1) rotate(-90)" font-size="2.6" fill="#505050" text-anchor="end" font-weight="normal" stroke="#505050" stroke-width="0.12">SW32</text>
<line x1="308.52" y1="226.30" x2="308.52" y2="227.10" stroke="#999" stroke-width="0.35" />
<text transform="translate(309.66 227.80) scale(1.330 1) rotate(-90)" font-size="2.6" fill="#505050" text-anchor="end" font-weight="normal" stroke="#505050" stroke-width="0.12">SW33</text>
<line x1="315.77" y1="226.30" x2="315.77" y2="227.10" stroke="#999" stroke-width="0.35" />
<text transform="translate(316.91 227.80) scale(1.330 1) rotate(-90)" font-size="2.6" fill="#505050" text-anchor="end" font-weight="normal" stroke="#505050" stroke-width="0.12">SW34</text>
<rect x="320.40" y="98.20" width="7.20" height="1.80" fill="#d97cbc" />
<rect x="320.40" y="100.00" width="7.20" height="121.40" fill="#44b272" />
<line x1="320.40" y1="100.00" x2="327.60" y2="100.00" stroke="rgba(20,20,0,0.55)" stroke-width="0.7" />
<rect x="327.60" y="98.20" width="7.20" height="17.10" fill="#3fb8da" />
<rect x="327.60" y="115.30" width="7.20" height="101.90" fill="#aab02e" />
<rect x="327.60" y="217.20" width="7.20" height="4.20" fill="#44b272" />
<line x1="327.60" y1="115.30" x2="334.80" y2="115.30" stroke="rgba(20,20,0,0.55)" stroke-width="0.7" />
<line x1="327.60" y1="217.20" x2="334.80" y2="217.20" stroke="rgba(20,20,0,0.55)" stroke-width="0.7" />
<rect x="334.80" y="98.20" width="7.20" height="1.00" fill="#aab02e" />
<rect x="334.80" y="99.20" width="7.20" height="21.80" fill="#f08352" />
<rect x="334.80" y="121.00" width="7.20" height="8.10" fill="#aab02e" />
<rect x="334.80" y="129.10" width="7.20" height="92.30" fill="#44b272" />
<line x1="334.80" y1="99.20" x2="342.00" y2="99.20" stroke="rgba(20,20,0,0.55)" stroke-width="0.7" />
<line x1="334.80" y1="121.00" x2="342.00" y2="121.00" stroke="rgba(20,20,0,0.55)" stroke-width="0.7" />
<line x1="334.80" y1="129.10" x2="342.00" y2="129.10" stroke="rgba(20,20,0,0.55)" stroke-width="0.7" />
<line x1="320.60" y1="98.20" x2="320.60" y2="221.40" stroke="rgba(20,20,0,0.55)" stroke-width="0.4" />
<line x1="327.60" y1="98.20" x2="327.60" y2="221.40" stroke="rgba(20,20,0,0.55)" stroke-width="0.75" />
<line x1="334.80" y1="98.20" x2="334.80" y2="221.40" stroke="rgba(20,20,0,0.55)" stroke-width="0.75" />
<line x1="341.80" y1="98.20" x2="341.80" y2="221.40" stroke="rgba(20,20,0,0.55)" stroke-width="0.4" />
<line x1="320.40" y1="98.45" x2="342.00" y2="98.45" stroke="rgba(20,20,0,0.55)" stroke-width="0.5" />
<line x1="320.40" y1="221.15" x2="342.00" y2="221.15" stroke="rgba(20,20,0,0.55)" stroke-width="0.5" />
<rect x="320.65" y="221.85" width="21.10" height="4.40" fill="#fff" stroke="#222" stroke-width="0.5" />
<text transform="translate(331.20 224.95) scale(1.264 1)" font-size="2.5" fill="#1a1a1a" text-anchor="middle" font-weight="normal" >sea SW04</text>
<line x1="324.00" y1="226.30" x2="324.00" y2="227.10" stroke="#999" stroke-width="0.35" />
<text transform="translate(325.13 227.80) scale(1.330 1) rotate(-90)" font-size="2.6" fill="#505050" text-anchor="end" font-weight="normal" stroke="#505050" stroke-width="0.12">SW41</text>
<line x1="331.20" y1="226.30" x2="331.20" y2="227.10" stroke="#999" stroke-width="0.35" />
<text transform="translate(332.33 227.80) scale(1.330 1) rotate(-90)" font-size="2.6" fill="#505050" text-anchor="end" font-weight="normal" stroke="#505050" stroke-width="0.12">SW42</text>
<line x1="338.40" y1="226.30" x2="338.40" y2="227.10" stroke="#999" stroke-width="0.35" />
<text transform="translate(339.53 227.80) scale(1.330 1) rotate(-90)" font-size="2.6" fill="#505050" text-anchor="end" font-weight="normal" stroke="#505050" stroke-width="0.12">SW43</text>
<text transform="translate(347.30 146.90) scale(1.340 1)" font-size="3.8" fill="#2a2a2a" text-anchor="start" font-weight="normal" stroke="#2a2a2a" stroke-width="0.15">Phylum</text>
<rect x="347.30" y="149.40" width="5.70" height="4.40" fill="#8585d6" stroke="rgba(0,0,0,0.4)" stroke-width="0.35" />
<text transform="translate(355.20 152.90) scale(1.340 1)" font-size="3.3" fill="#1e1e1e" text-anchor="start" font-weight="normal" stroke="#1e1e1e" stroke-width="0.15">Others</text>
<rect x="347.30" y="153.80" width="5.70" height="4.40" fill="#3fb8da" stroke="rgba(0,0,0,0.4)" stroke-width="0.35" />
<text transform="translate(355.20 157.30) scale(1.340 1)" font-size="3.3" fill="#1e1e1e" text-anchor="start" font-weight="normal" stroke="#1e1e1e" stroke-width="0.15">p__Tenericutes</text>
<rect x="347.30" y="158.20" width="5.70" height="4.40" fill="#d97cbc" stroke="rgba(0,0,0,0.4)" stroke-width="0.35" />
<text transform="translate(355.20 161.70) scale(1.340 1)" font-size="3.3" fill="#1e1e1e" text-anchor="start" font-weight="normal" stroke="#1e1e1e" stroke-width="0.15">p__Bacteroidetes</text>
<rect x="347.30" y="162.60" width="5.70" height="4.40" fill="#f08352" stroke="rgba(0,0,0,0.4)" stroke-width="0.35" />
<text transform="translate(355.20 166.10) scale(1.340 1)" font-size="3.3" fill="#1e1e1e" text-anchor="start" font-weight="normal" stroke="#1e1e1e" stroke-width="0.15">p__Cyanobacteria</text>
<rect x="347.30" y="167.00" width="5.70" height="4.40" fill="#aab02e" stroke="rgba(0,0,0,0.4)" stroke-width="0.35" />
<text transform="translate(355.20 170.50) scale(1.340 1)" font-size="3.3" fill="#1e1e1e" text-anchor="start" font-weight="normal" stroke="#1e1e1e" stroke-width="0.15">p__Firmicutes</text>
<rect x="347.30" y="171.40" width="5.70" height="4.40" fill="#44b272" stroke="rgba(0,0,0,0.4)" stroke-width="0.35" />
<text transform="translate(355.20 174.90) scale(1.340 1)" font-size="3.3" fill="#1e1e1e" text-anchor="start" font-weight="normal" stroke="#1e1e1e" stroke-width="0.15">p__Proteobacteria</text>
<line x1="10.60" y1="261.50" x2="11.80" y2="261.50" stroke="#777" stroke-width="0.45" />
<text transform="translate(10.10 262.40)" font-size="2.6" fill="#555" text-anchor="end" font-weight="normal" stroke="#555" stroke-width="0.12">1.00</text>
<line x1="10.60" y1="292.25" x2="11.80" y2="292.25" stroke="#777" stroke-width="0.45" />
<text transform="translate(10.10 293.15)" font-size="2.6" fill="#555" text-anchor="end" font-weight="normal" stroke="#555" stroke-width="0.12">0.75</text>
<line x1="10.60" y1="323.00" x2="11.80" y2="323.00" stroke="#777" stroke-width="0.45" />
<text transform="translate(10.10 323.90)" font-size="2.6" fill="#555" text-anchor="end" font-weight="normal" stroke="#555" stroke-width="0.12">0.50</text>
<line x1="10.60" y1="353.75" x2="11.80" y2="353.75" stroke="#777" stroke-width="0.45" />
<text transform="translate(10.10 354.65)" font-size="2.6" fill="#555" text-anchor="end" font-weight="normal" stroke="#555" stroke-width="0.12">0.25</text>
<line x1="10.60" y1="384.50" x2="11.80" y2="384.50" stroke="#777" stroke-width="0.45" />
<text transform="translate(10.10 385.40)" font-size="2.6" fill="#555" text-anchor="end" font-weight="normal" stroke="#555" stroke-width="0.12">0.00</text>
<text transform="translate(3.60 323.00) rotate(-90)" font-size="4.0" fill="#111" text-anchor="middle" font-weight="bold" >Abundance</text>
<rect x="12.00" y="261.50" width="4.57" height="20.40" fill="#9191da" />
<rect x="12.00" y="281.90" width="4.57" height="4.35" fill="#ec6c8e" />
<rect x="12.00" y="286.25" width="4.57" height="6.85" fill="#3fb2d6" />
<rect x="12.00" y="293.10" width="4.57" height="38.80" fill="#d27ab8" />
<rect x="12.00" y="331.90" width="4.57" height="52.60" fill="#42aee2" />
<line x1="12.00" y1="281.90" x2="16.57" y2="281.90" stroke="rgba(20,20,0,0.55)" stroke-width="0.7" />
<line x1="12.00" y1="286.25" x2="16.57" y2="286.25" stroke="rgba(20,20,0,0.55)" stroke-width="0.7" />
<line x1="12.00" y1="293.10" x2="16.57" y2="293.10" stroke="rgba(20,20,0,0.55)" stroke-width="0.7" />
<line x1="12.00" y1="331.90" x2="16.57" y2="331.90" stroke="rgba(20,20,0,0.55)" stroke-width="0.7" />
<rect x="16.57" y="261.50" width="4.57" height="1.50" fill="#8a2a3a" />
<rect x="16.57" y="263.00" width="4.57" height="108.90" fill="#e8922e" />
<rect x="16.57" y="371.90" width="4.57" height="3.10" fill="#d27ab8" />
<rect x="16.57" y="375.00" width="4.57" height="2.00" fill="#9452c2" />
<rect x="16.57" y="377.00" width="4.57" height="7.50" fill="#42aee2" />
<line x1="16.57" y1="263.00" x2="21.14" y2="263.00" stroke="rgba(20,20,0,0.55)" stroke-width="0.7" />
<line x1="16.57" y1="371.90" x2="21.14" y2="371.90" stroke="rgba(20,20,0,0.55)" stroke-width="0.7" />
<line x1="16.57" y1="375.00" x2="21.14" y2="375.00" stroke="rgba(20,20,0,0.55)" stroke-width="0.7" />
<line x1="16.57" y1="377.00" x2="21.14" y2="377.00" stroke="rgba(20,20,0,0.55)" stroke-width="0.7" />
<rect x="21.14" y="261.50" width="4.57" height="23.50" fill="#9191da" />
<rect x="21.14" y="285.00" width="4.57" height="4.00" fill="#ec6c8e" />
<rect x="21.14" y="289.00" width="4.57" height="31.60" fill="#d27ab8" />
<rect x="21.14" y="320.60" width="4.57" height="63.90" fill="#42aee2" />
<line x1="21.14" y1="285.00" x2="25.71" y2="285.00" stroke="rgba(20,20,0,0.55)" stroke-width="0.7" />
<line x1="21.14" y1="289.00" x2="25.71" y2="289.00" stroke="rgba(20,20,0,0.55)" stroke-width="0.7" />
<line x1="21.14" y1="320.60" x2="25.71" y2="320.60" stroke="rgba(20,20,0,0.55)" stroke-width="0.7" />
<rect x="25.71" y="261.50" width="4.57" height="18.50" fill="#9191da" />
<rect x="25.71" y="280.00" width="4.57" height="4.50" fill="#ec6c8e" />
<rect x="25.71" y="284.50" width="4.57" height="11.75" fill="#e8922e" />
<rect x="25.71" y="296.25" width="4.57" height="13.75" fill="#d27ab8" />
<rect x="25.71" y="310.00" width="4.57" height="74.50" fill="#42aee2" />
<line x1="25.71" y1="280.00" x2="30.29" y2="280.00" stroke="rgba(20,20,0,0.55)" stroke-width="0.7" />
<line x1="25.71" y1="284.50" x2="30.29" y2="284.50" stroke="rgba(20,20,0,0.55)" stroke-width="0.7" />
<line x1="25.71" y1="296.25" x2="30.29" y2="296.25" stroke="rgba(20,20,0,0.55)" stroke-width="0.7" />
<line x1="25.71" y1="310.00" x2="30.29" y2="310.00" stroke="rgba(20,20,0,0.55)" stroke-width="0.7" />
<rect x="30.29" y="261.50" width="4.57" height="12.25" fill="#9191da" />
<rect x="30.29" y="273.75" width="4.57" height="30.00" fill="#42aee2" />
<rect x="30.29" y="303.75" width="4.57" height="17.50" fill="#d27ab8" />
<rect x="30.29" y="321.25" width="4.57" height="63.25" fill="#42aee2" />
<line x1="30.29" y1="273.75" x2="34.86" y2="273.75" stroke="rgba(20,20,0,0.55)" stroke-width="0.7" />
<line x1="30.29" y1="303.75" x2="34.86" y2="303.75" stroke="rgba(20,20,0,0.55)" stroke-width="0.7" />
<line x1="30.29" y1="321.25" x2="34.86" y2="321.25" stroke="rgba(20,20,0,0.55)" stroke-width="0.7" />
<rect x="34.86" y="261.50" width="4.57" height="1.50" fill="#3c6a5a" />
<rect x="34.86" y="263.00" width="4.57" height="42.00" fill="#52b244" />
<rect x="34.86" y="305.00" width="4.57" height="3.00" fill="#ec6c8e" />
<rect x="34.86" y="308.00" width="4.57" height="28.25" fill="#d27ab8" />
<rect x="34.86" y="336.25" width="4.57" height="48.25" fill="#42aee2" />
<line x1="34.86" y1="263.00" x2="39.43" y2="263.00" stroke="rgba(20,20,0,0.55)" stroke-width="0.7" />
<line x1="34.86" y1="305.00" x2="39.43" y2="305.00" stroke="rgba(20,20,0,0.55)" stroke-width="0.7" />
<line x1="34.86" y1="308.00" x2="39.43" y2="308.00" stroke="rgba(20,20,0,0.55)" stroke-width="0.7" />
<line x1="34.86" y1="336.25" x2="39.43" y2="336.25" stroke="rgba(20,20,0,0.55)" stroke-width="0.7" />
<rect x="39.43" y="261.50" width="4.57" height="74.75" fill="#32bccc" />
<rect x="39.43" y="336.25" width="4.57" height="47.35" fill="#e676b6" />
<rect x="39.43" y="383.60" width="4.57" height="0.90" fill="#8a2a3a" />
<line x1="39.43" y1="336.25" x2="44.00" y2="336.25" stroke="rgba(20,20,0,0.55)" stroke-width="0.7" />
<line x1="39.43" y1="383.60" x2="44.00" y2="383.60" stroke="rgba(20,20,0,0.55)" stroke-width="0.7" />
<line x1="12.20" y1="261.50" x2="12.20" y2="384.50" stroke="rgba(20,20,0,0.55)" stroke-width="0.4" />
<line x1="16.57" y1="261.50" x2="16.57" y2="384.50" stroke="rgba(20,20,0,0.55)" stroke-width="0.75" />
<line x1="21.14" y1="261.50" x2="21.14" y2="384.50" stroke="rgba(20,20,0,0.55)" stroke-width="0.75" />
<line x1="25.71" y1="261.50" x2="25.71" y2="384.50" stroke="rgba(20,20,0,0.55)" stroke-width="0.75" />
<line x1="30.29" y1="261.50" x2="30.29" y2="384.50" stroke="rgba(20,20,0,0.55)" stroke-width="0.75" />
<line x1="34.86" y1="261.50" x2="34.86" y2="384.50" stroke="rgba(20,20,0,0.55)" stroke-width="0.75" />
<line x1="39.43" y1="261.50" x2="39.43" y2="384.50" stroke="rgba(20,20,0,0.55)" stroke-width="0.75" />
<line x1="43.80" y1="261.50" x2="43.80" y2="384.50" stroke="rgba(20,20,0,0.55)" stroke-width="0.4" />
<line x1="12.00" y1="261.75" x2="44.00" y2="261.75" stroke="rgba(20,20,0,0.55)" stroke-width="0.5" />
<line x1="12.00" y1="384.25" x2="44.00" y2="384.25" stroke="rgba(20,20,0,0.55)" stroke-width="0.5" />
<rect x="12.25" y="384.95" width="31.50" height="4.40" fill="#fff" stroke="#222" stroke-width="0.5" />
<text transform="translate(28.00 388.05) scale(0.950 1)" font-size="2.5" fill="#1a1a1a" text-anchor="middle" font-weight="normal" >services SW01</text>
<line x1="14.29" y1="389.40" x2="14.29" y2="390.20" stroke="#999" stroke-width="0.35" />
<text transform="translate(15.14 390.90) rotate(-90)" font-size="2.6" fill="#505050" text-anchor="end" font-weight="normal" stroke="#505050" stroke-width="0.12">SW11</text>
<line x1="18.86" y1="389.40" x2="18.86" y2="390.20" stroke="#999" stroke-width="0.35" />
<text transform="translate(19.71 390.90) rotate(-90)" font-size="2.6" fill="#505050" text-anchor="end" font-weight="normal" stroke="#505050" stroke-width="0.12">SW12</text>
<line x1="23.43" y1="389.40" x2="23.43" y2="390.20" stroke="#999" stroke-width="0.35" />
<text transform="translate(24.28 390.90) rotate(-90)" font-size="2.6" fill="#505050" text-anchor="end" font-weight="normal" stroke="#505050" stroke-width="0.12">SW13</text>
<line x1="28.00" y1="389.40" x2="28.00" y2="390.20" stroke="#999" stroke-width="0.35" />
<text transform="translate(28.85 390.90) rotate(-90)" font-size="2.6" fill="#505050" text-anchor="end" font-weight="normal" stroke="#505050" stroke-width="0.12">SW14</text>
<line x1="32.57" y1="389.40" x2="32.57" y2="390.20" stroke="#999" stroke-width="0.35" />
<text transform="translate(33.42 390.90) rotate(-90)" font-size="2.6" fill="#505050" text-anchor="end" font-weight="normal" stroke="#505050" stroke-width="0.12">SW15</text>
<line x1="37.14" y1="389.40" x2="37.14" y2="390.20" stroke="#999" stroke-width="0.35" />
<text transform="translate(37.99 390.90) rotate(-90)" font-size="2.6" fill="#505050" text-anchor="end" font-weight="normal" stroke="#505050" stroke-width="0.12">SW16</text>
<line x1="41.71" y1="389.40" x2="41.71" y2="390.20" stroke="#999" stroke-width="0.35" />
<text transform="translate(42.56 390.90) rotate(-90)" font-size="2.6" fill="#505050" text-anchor="end" font-weight="normal" stroke="#505050" stroke-width="0.12">SW17</text>
<rect x="45.00" y="261.50" width="4.52" height="7.25" fill="#9191da" />
<rect x="45.00" y="268.75" width="4.52" height="3.15" fill="#42b28a" />
<rect x="45.00" y="271.90" width="4.52" height="10.00" fill="#42aee2" />
<rect x="45.00" y="281.90" width="4.52" height="9.35" fill="#52b244" />
<rect x="45.00" y="291.25" width="4.52" height="44.35" fill="#d27ab8" />
<rect x="45.00" y="335.60" width="4.52" height="48.90" fill="#42aee2" />
<line x1="45.00" y1="268.75" x2="49.52" y2="268.75" stroke="rgba(20,20,0,0.55)" stroke-width="0.7" />
<line x1="45.00" y1="271.90" x2="49.52" y2="271.90" stroke="rgba(20,20,0,0.55)" stroke-width="0.7" />
<line x1="45.00" y1="281.90" x2="49.52" y2="281.90" stroke="rgba(20,20,0,0.55)" stroke-width="0.7" />
<line x1="45.00" y1="291.25" x2="49.52" y2="291.25" stroke="rgba(20,20,0,0.55)" stroke-width="0.7" />
<line x1="45.00" y1="335.60" x2="49.52" y2="335.60" stroke="rgba(20,20,0,0.55)" stroke-width="0.7" />
<rect x="49.52" y="261.50" width="4.52" height="27.25" fill="#9191da" />
<rect x="49.52" y="288.75" width="4.52" height="4.75" fill="#ec6c8e" />
<rect x="49.52" y="293.50" width="4.52" height="4.50" fill="#42b28a" />
<rect x="49.52" y="298.00" width="4.52" height="6.00" fill="#e8922e" />
<rect x="49.52" y="304.00" width="4.52" height="37.25" fill="#d27ab8" />
<rect x="49.52" y="341.25" width="4.52" height="43.25" fill="#42aee2" />
<line x1="49.52" y1="288.75" x2="54.04" y2="288.75" stroke="rgba(20,20,0,0.55)" stroke-width="0.7" />
<line x1="49.52" y1="293.50" x2="54.04" y2="293.50" stroke="rgba(20,20,0,0.55)" stroke-width="0.7" />
<line x1="49.52" y1="298.00" x2="54.04" y2="298.00" stroke="rgba(20,20,0,0.55)" stroke-width="0.7" />
<line x1="49.52" y1="304.00" x2="54.04" y2="304.00" stroke="rgba(20,20,0,0.55)" stroke-width="0.7" />
<line x1="49.52" y1="341.25" x2="54.04" y2="341.25" stroke="rgba(20,20,0,0.55)" stroke-width="0.7" />
<rect x="54.04" y="261.50" width="4.52" height="12.25" fill="#9191da" />
<rect x="54.04" y="273.75" width="4.52" height="5.25" fill="#ec6c8e" />
<rect x="54.04" y="279.00" width="4.52" height="17.25" fill="#52b244" />
<rect x="54.04" y="296.25" width="4.52" height="23.15" fill="#d27ab8" />
<rect x="54.04" y="319.40" width="4.52" height="65.10" fill="#42aee2" />
<line x1="54.04" y1="273.75" x2="58.56" y2="273.75" stroke="rgba(20,20,0,0.55)" stroke-width="0.7" />
<line x1="54.04" y1="279.00" x2="58.56" y2="279.00" stroke="rgba(20,20,0,0.55)" stroke-width="0.7" />
<line x1="54.04" y1="296.25" x2="58.56" y2="296.25" stroke="rgba(20,20,0,0.55)" stroke-width="0.7" />
<line x1="54.04" y1="319.40" x2="58.56" y2="319.40" stroke="rgba(20,20,0,0.55)" stroke-width="0.7" />
<rect x="58.56" y="261.50" width="4.52" height="2.50" fill="#9191da" />
<rect x="58.56" y="264.00" width="4.52" height="4.75" fill="#ec6c8e" />
<rect x="58.56" y="268.75" width="4.52" height="15.00" fill="#42b28a" />
<rect x="58.56" y="283.75" width="4.52" height="60.65" fill="#d27ab8" />
<rect x="58.56" y="344.40" width="4.52" height="40.10" fill="#42aee2" />
<line x1="58.56" y1="264.00" x2="63.08" y2="264.00" stroke="rgba(20,20,0,0.55)" stroke-width="0.7" />
<line x1="58.56" y1="268.75" x2="63.08" y2="268.75" stroke="rgba(20,20,0,0.55)" stroke-width="0.7" />
<line x1="58.56" y1="283.75" x2="63.08" y2="283.75" stroke="rgba(20,20,0,0.55)" stroke-width="0.7" />
<line x1="58.56" y1="344.40" x2="63.08" y2="344.40" stroke="rgba(20,20,0,0.55)" stroke-width="0.7" />
<rect x="63.08" y="261.50" width="4.52" height="5.00" fill="#9191da" />
<rect x="63.08" y="266.50" width="4.52" height="3.50" fill="#ec6c8e" />
<rect x="63.08" y="270.00" width="4.52" height="46.25" fill="#52b244" />
<rect x="63.08" y="316.25" width="4.52" height="43.75" fill="#d27ab8" />
<rect x="63.08" y="360.00" width="4.52" height="24.50" fill="#42aee2" />
<line x1="63.08" y1="266.50" x2="67.60" y2="266.50" stroke="rgba(20,20,0,0.55)" stroke-width="0.7" />
<line x1="63.08" y1="270.00" x2="67.60" y2="270.00" stroke="rgba(20,20,0,0.55)" stroke-width="0.7" />
<line x1="63.08" y1="316.25" x2="67.60" y2="316.25" stroke="rgba(20,20,0,0.55)" stroke-width="0.7" />
<line x1="63.08" y1="360.00" x2="67.60" y2="360.00" stroke="rgba(20,20,0,0.55)" stroke-width="0.7" />
<line x1="45.20" y1="261.50" x2="45.20" y2="384.50" stroke="rgba(20,20,0,0.55)" stroke-width="0.4" />
<line x1="49.52" y1="261.50" x2="49.52" y2="384.50" stroke="rgba(20,20,0,0.55)" stroke-width="0.75" />
<line x1="54.04" y1="261.50" x2="54.04" y2="384.50" stroke="rgba(20,20,0,0.55)" stroke-width="0.75" />
<line x1="58.56" y1="261.50" x2="58.56" y2="384.50" stroke="rgba(20,20,0,0.55)" stroke-width="0.75" />
<line x1="63.08" y1="261.50" x2="63.08" y2="384.50" stroke="rgba(20,20,0,0.55)" stroke-width="0.75" />
<line x1="67.40" y1="261.50" x2="67.40" y2="384.50" stroke="rgba(20,20,0,0.55)" stroke-width="0.4" />
<line x1="45.00" y1="261.75" x2="67.60" y2="261.75" stroke="rgba(20,20,0,0.55)" stroke-width="0.5" />
<line x1="45.00" y1="384.25" x2="67.60" y2="384.25" stroke="rgba(20,20,0,0.55)" stroke-width="0.5" />
<rect x="45.25" y="384.95" width="22.10" height="4.40" fill="#fff" stroke="#222" stroke-width="0.5" />
<text transform="translate(56.30 388.05) scale(0.950 1)" font-size="2.5" fill="#1a1a1a" text-anchor="middle" font-weight="normal" >seafoodsite SW02</text>
<line x1="47.26" y1="389.40" x2="47.26" y2="390.20" stroke="#999" stroke-width="0.35" />
<text transform="translate(48.11 390.90) rotate(-90)" font-size="2.6" fill="#505050" text-anchor="end" font-weight="normal" stroke="#505050" stroke-width="0.12">SW21</text>
<line x1="51.78" y1="389.40" x2="51.78" y2="390.20" stroke="#999" stroke-width="0.35" />
<text transform="translate(52.63 390.90) rotate(-90)" font-size="2.6" fill="#505050" text-anchor="end" font-weight="normal" stroke="#505050" stroke-width="0.12">SW22</text>
<line x1="56.30" y1="389.40" x2="56.30" y2="390.20" stroke="#999" stroke-width="0.35" />
<text transform="translate(57.15 390.90) rotate(-90)" font-size="2.6" fill="#505050" text-anchor="end" font-weight="normal" stroke="#505050" stroke-width="0.12">SW23</text>
<line x1="60.82" y1="389.40" x2="60.82" y2="390.20" stroke="#999" stroke-width="0.35" />
<text transform="translate(61.67 390.90) rotate(-90)" font-size="2.6" fill="#505050" text-anchor="end" font-weight="normal" stroke="#505050" stroke-width="0.12">SW24</text>
<line x1="65.34" y1="389.40" x2="65.34" y2="390.20" stroke="#999" stroke-width="0.35" />
<text transform="translate(66.19 390.90) rotate(-90)" font-size="2.6" fill="#505050" text-anchor="end" font-weight="normal" stroke="#505050" stroke-width="0.12">SW25</text>
<rect x="68.60" y="261.50" width="4.48" height="49.50" fill="#9191da" />
<rect x="68.60" y="311.00" width="4.48" height="3.00" fill="#ec6c8e" />
<rect x="68.60" y="314.00" width="4.48" height="11.00" fill="#42b28a" />
<rect x="68.60" y="325.00" width="4.48" height="5.00" fill="#9ab232" />
<rect x="68.60" y="330.00" width="4.48" height="41.90" fill="#d27ab8" />
<rect x="68.60" y="371.90" width="4.48" height="12.60" fill="#42aee2" />
<line x1="68.60" y1="311.00" x2="73.08" y2="311.00" stroke="rgba(20,20,0,0.55)" stroke-width="0.7" />
<line x1="68.60" y1="314.00" x2="73.08" y2="314.00" stroke="rgba(20,20,0,0.55)" stroke-width="0.7" />
<line x1="68.60" y1="325.00" x2="73.08" y2="325.00" stroke="rgba(20,20,0,0.55)" stroke-width="0.7" />
<line x1="68.60" y1="330.00" x2="73.08" y2="330.00" stroke="rgba(20,20,0,0.55)" stroke-width="0.7" />
<line x1="68.60" y1="371.90" x2="73.08" y2="371.90" stroke="rgba(20,20,0,0.55)" stroke-width="0.7" />
<rect x="73.08" y="261.50" width="4.48" height="20.50" fill="#9191da" />
<rect x="73.08" y="282.00" width="4.48" height="10.50" fill="#e676b6" />
<rect x="73.08" y="292.50" width="4.48" height="4.00" fill="#42b28a" />
<rect x="73.08" y="296.50" width="4.48" height="55.40" fill="#d27ab8" />
<rect x="73.08" y="351.90" width="4.48" height="32.60" fill="#42aee2" />
<line x1="73.08" y1="282.00" x2="77.56" y2="282.00" stroke="rgba(20,20,0,0.55)" stroke-width="0.7" />
<line x1="73.08" y1="292.50" x2="77.56" y2="292.50" stroke="rgba(20,20,0,0.55)" stroke-width="0.7" />
<line x1="73.08" y1="296.50" x2="77.56" y2="296.50" stroke="rgba(20,20,0,0.55)" stroke-width="0.7" />
<line x1="73.08" y1="351.90" x2="77.56" y2="351.90" stroke="rgba(20,20,0,0.55)" stroke-width="0.7" />
<rect x="77.56" y="261.50" width="4.48" height="39.50" fill="#9191da" />
<rect x="77.56" y="301.00" width="4.48" height="21.00" fill="#42b28a" />
<rect x="77.56" y="322.00" width="4.48" height="33.60" fill="#d27ab8" />
<rect x="77.56" y="355.60" width="4.48" height="28.90" fill="#52b244" />
<line x1="77.56" y1="301.00" x2="82.03" y2="301.00" stroke="rgba(20,20,0,0.55)" stroke-width="0.7" />
<line x1="77.56" y1="322.00" x2="82.03" y2="322.00" stroke="rgba(20,20,0,0.55)" stroke-width="0.7" />
<line x1="77.56" y1="355.60" x2="82.03" y2="355.60" stroke="rgba(20,20,0,0.55)" stroke-width="0.7" />
<rect x="82.03" y="261.50" width="4.48" height="14.10" fill="#9191da" />
<rect x="82.03" y="275.60" width="4.48" height="3.80" fill="#ec6c8e" />
<rect x="82.03" y="279.40" width="4.48" height="3.60" fill="#42b28a" />
<rect x="82.03" y="283.00" width="4.48" height="17.00" fill="#52b244" />
<rect x="82.03" y="300.00" width="4.48" height="50.60" fill="#d27ab8" />
<rect x="82.03" y="350.60" width="4.48" height="24.40" fill="#f08052" />
<rect x="82.03" y="375.00" width="4.48" height="9.50" fill="#d27ab8" />
<line x1="82.03" y1="275.60" x2="86.51" y2="275.60" stroke="rgba(20,20,0,0.55)" stroke-width="0.7" />
<line x1="82.03" y1="279.40" x2="86.51" y2="279.40" stroke="rgba(20,20,0,0.55)" stroke-width="0.7" />
<line x1="82.03" y1="283.00" x2="86.51" y2="283.00" stroke="rgba(20,20,0,0.55)" stroke-width="0.7" />
<line x1="82.03" y1="300.00" x2="86.51" y2="300.00" stroke="rgba(20,20,0,0.55)" stroke-width="0.7" />
<line x1="82.03" y1="350.60" x2="86.51" y2="350.60" stroke="rgba(20,20,0,0.55)" stroke-width="0.7" />
<line x1="82.03" y1="375.00" x2="86.51" y2="375.00" stroke="rgba(20,20,0,0.55)" stroke-width="0.7" />
<rect x="86.51" y="261.50" width="4.48" height="17.25" fill="#9191da" />
<rect x="86.51" y="278.75" width="4.48" height="21.85" fill="#42aee2" />
<rect x="86.51" y="300.60" width="4.48" height="25.00" fill="#f08052" />
<rect x="86.51" y="325.60" width="4.48" height="50.65" fill="#52b244" />
<rect x="86.51" y="376.25" width="4.48" height="8.25" fill="#d27ab8" />
<line x1="86.51" y1="278.75" x2="90.99" y2="278.75" stroke="rgba(20,20,0,0.55)" stroke-width="0.7" />
<line x1="86.51" y1="300.60" x2="90.99" y2="300.60" stroke="rgba(20,20,0,0.55)" stroke-width="0.7" />
<line x1="86.51" y1="325.60" x2="90.99" y2="325.60" stroke="rgba(20,20,0,0.55)" stroke-width="0.7" />
<line x1="86.51" y1="376.25" x2="90.99" y2="376.25" stroke="rgba(20,20,0,0.55)" stroke-width="0.7" />
<rect x="90.99" y="261.50" width="4.48" height="15.40" fill="#9191da" />
<rect x="90.99" y="276.90" width="4.48" height="2.10" fill="#ec6c8e" />
<rect x="90.99" y="279.00" width="4.48" height="6.60" fill="#42b28a" />
<rect x="90.99" y="285.60" width="4.48" height="70.65" fill="#e676b6" />
<rect x="90.99" y="356.25" width="4.48" height="28.25" fill="#42aee2" />
<line x1="90.99" y1="276.90" x2="95.47" y2="276.90" stroke="rgba(20,20,0,0.55)" stroke-width="0.7" />
<line x1="90.99" y1="279.00" x2="95.47" y2="279.00" stroke="rgba(20,20,0,0.55)" stroke-width="0.7" />
<line x1="90.99" y1="285.60" x2="95.47" y2="285.60" stroke="rgba(20,20,0,0.55)" stroke-width="0.7" />
<line x1="90.99" y1="356.25" x2="95.47" y2="356.25" stroke="rgba(20,20,0,0.55)" stroke-width="0.7" />
<rect x="95.47" y="261.50" width="4.48" height="39.10" fill="#9191da" />
<rect x="95.47" y="300.60" width="4.48" height="15.65" fill="#42b28a" />
<rect x="95.47" y="316.25" width="4.48" height="38.15" fill="#d27ab8" />
<rect x="95.47" y="354.40" width="4.48" height="30.10" fill="#42aee2" />
<line x1="95.47" y1="300.60" x2="99.94" y2="300.60" stroke="rgba(20,20,0,0.55)" stroke-width="0.7" />
<line x1="95.47" y1="316.25" x2="99.94" y2="316.25" stroke="rgba(20,20,0,0.55)" stroke-width="0.7" />
<line x1="95.47" y1="354.40" x2="99.94" y2="354.40" stroke="rgba(20,20,0,0.55)" stroke-width="0.7" />
<rect x="99.94" y="261.50" width="4.48" height="5.40" fill="#9191da" />
<rect x="99.94" y="266.90" width="4.48" height="3.10" fill="#42aee2" />
<rect x="99.94" y="270.00" width="4.48" height="10.60" fill="#42b28a" />
<rect x="99.94" y="280.60" width="4.48" height="9.40" fill="#d27ab8" />
<rect x="99.94" y="290.00" width="4.48" height="15.00" fill="#e676b6" />
<rect x="99.94" y="305.00" width="4.48" height="50.00" fill="#f08052" />
<rect x="99.94" y="355.00" width="4.48" height="13.75" fill="#52b244" />
<rect x="99.94" y="368.75" width="4.48" height="9.25" fill="#d27ab8" />
<rect x="99.94" y="378.00" width="4.48" height="6.50" fill="#42aee2" />
<line x1="99.94" y1="266.90" x2="104.42" y2="266.90" stroke="rgba(20,20,0,0.55)" stroke-width="0.7" />
<line x1="99.94" y1="270.00" x2="104.42" y2="270.00" stroke="rgba(20,20,0,0.55)" stroke-width="0.7" />
<line x1="99.94" y1="280.60" x2="104.42" y2="280.60" stroke="rgba(20,20,0,0.55)" stroke-width="0.7" />
<line x1="99.94" y1="290.00" x2="104.42" y2="290.00" stroke="rgba(20,20,0,0.55)" stroke-width="0.7" />
<line x1="99.94" y1="305.00" x2="104.42" y2="305.00" stroke="rgba(20,20,0,0.55)" stroke-width="0.7" />
<line x1="99.94" y1="355.00" x2="104.42" y2="355.00" stroke="rgba(20,20,0,0.55)" stroke-width="0.7" />
<line x1="99.94" y1="368.75" x2="104.42" y2="368.75" stroke="rgba(20,20,0,0.55)" stroke-width="0.7" />
<line x1="99.94" y1="378.00" x2="104.42" y2="378.00" stroke="rgba(20,20,0,0.55)" stroke-width="0.7" />
<rect x="104.42" y="261.50" width="4.48" height="2.25" fill="#8a2a3a" />
<rect x="104.42" y="263.75" width="4.48" height="40.00" fill="#c2a224" />
<rect x="104.42" y="303.75" width="4.48" height="5.65" fill="#32bccc" />
<rect x="104.42" y="309.40" width="4.48" height="50.60" fill="#9ab232" />
<rect x="104.42" y="360.00" width="4.48" height="13.75" fill="#d27ab8" />
<rect x="104.42" y="373.75" width="4.48" height="10.75" fill="#42aee2" />
<line x1="104.42" y1="263.75" x2="108.90" y2="263.75" stroke="rgba(20,20,0,0.55)" stroke-width="0.7" />
<line x1="104.42" y1="303.75" x2="108.90" y2="303.75" stroke="rgba(20,20,0,0.55)" stroke-width="0.7" />
<line x1="104.42" y1="309.40" x2="108.90" y2="309.40" stroke="rgba(20,20,0,0.55)" stroke-width="0.7" />
<line x1="104.42" y1="360.00" x2="108.90" y2="360.00" stroke="rgba(20,20,0,0.55)" stroke-width="0.7" />
<line x1="104.42" y1="373.75" x2="108.90" y2="373.75" stroke="rgba(20,20,0,0.55)" stroke-width="0.7" />
<line x1="68.80" y1="261.50" x2="68.80" y2="384.50" stroke="rgba(20,20,0,0.55)" stroke-width="0.4" />
<line x1="73.08" y1="261.50" x2="73.08" y2="384.50" stroke="rgba(20,20,0,0.55)" stroke-width="0.75" />
<line x1="77.56" y1="261.50" x2="77.56" y2="384.50" stroke="rgba(20,20,0,0.55)" stroke-width="0.75" />
<line x1="82.03" y1="261.50" x2="82.03" y2="384.50" stroke="rgba(20,20,0,0.55)" stroke-width="0.75" />
<line x1="86.51" y1="261.50" x2="86.51" y2="384.50" stroke="rgba(20,20,0,0.55)" stroke-width="0.75" />
<line x1="90.99" y1="261.50" x2="90.99" y2="384.50" stroke="rgba(20,20,0,0.55)" stroke-width="0.75" />
<line x1="95.47" y1="261.50" x2="95.47" y2="384.50" stroke="rgba(20,20,0,0.55)" stroke-width="0.75" />
<line x1="99.94" y1="261.50" x2="99.94" y2="384.50" stroke="rgba(20,20,0,0.55)" stroke-width="0.75" />
<line x1="104.42" y1="261.50" x2="104.42" y2="384.50" stroke="rgba(20,20,0,0.55)" stroke-width="0.75" />
<line x1="108.70" y1="261.50" x2="108.70" y2="384.50" stroke="rgba(20,20,0,0.55)" stroke-width="0.4" />
<line x1="68.60" y1="261.75" x2="108.90" y2="261.75" stroke="rgba(20,20,0,0.55)" stroke-width="0.5" />
<line x1="68.60" y1="384.25" x2="108.90" y2="384.25" stroke="rgba(20,20,0,0.55)" stroke-width="0.5" />
<rect x="68.85" y="384.95" width="39.80" height="4.40" fill="#fff" stroke="#222" stroke-width="0.5" />
<text transform="translate(88.75 388.05) scale(0.950 1)" font-size="2.5" fill="#1a1a1a" text-anchor="middle" font-weight="normal" >solid SW03</text>
<line x1="70.84" y1="389.40" x2="70.84" y2="390.20" stroke="#999" stroke-width="0.35" />
<text transform="translate(71.69 390.90) rotate(-90)" font-size="2.6" fill="#505050" text-anchor="end" font-weight="normal" stroke="#505050" stroke-width="0.12">SW31</text>
<line x1="75.32" y1="389.40" x2="75.32" y2="390.20" stroke="#999" stroke-width="0.35" />
<text transform="translate(76.17 390.90) rotate(-90)" font-size="2.6" fill="#505050" text-anchor="end" font-weight="normal" stroke="#505050" stroke-width="0.12">SW32</text>
<line x1="79.79" y1="389.40" x2="79.79" y2="390.20" stroke="#999" stroke-width="0.35" />
<text transform="translate(80.64 390.90) rotate(-90)" font-size="2.6" fill="#505050" text-anchor="end" font-weight="normal" stroke="#505050" stroke-width="0.12">SW33</text>
<line x1="84.27" y1="389.40" x2="84.27" y2="390.20" stroke="#999" stroke-width="0.35" />
<text transform="translate(85.12 390.90) rotate(-90)" font-size="2.6" fill="#505050" text-anchor="end" font-weight="normal" stroke="#505050" stroke-width="0.12">SW34</text>
<line x1="88.75" y1="389.40" x2="88.75" y2="390.20" stroke="#999" stroke-width="0.35" />
<text transform="translate(89.60 390.90) rotate(-90)" font-size="2.6" fill="#505050" text-anchor="end" font-weight="normal" stroke="#505050" stroke-width="0.12">SW35</text>
<line x1="93.23" y1="389.40" x2="93.23" y2="390.20" stroke="#999" stroke-width="0.35" />
<text transform="translate(94.08 390.90) rotate(-90)" font-size="2.6" fill="#505050" text-anchor="end" font-weight="normal" stroke="#505050" stroke-width="0.12">SW36</text>
<line x1="97.71" y1="389.40" x2="97.71" y2="390.20" stroke="#999" stroke-width="0.35" />
<text transform="translate(98.56 390.90) rotate(-90)" font-size="2.6" fill="#505050" text-anchor="end" font-weight="normal" stroke="#505050" stroke-width="0.12">SW37</text>
<line x1="102.18" y1="389.40" x2="102.18" y2="390.20" stroke="#999" stroke-width="0.35" />
<text transform="translate(103.03 390.90) rotate(-90)" font-size="2.6" fill="#505050" text-anchor="end" font-weight="normal" stroke="#505050" stroke-width="0.12">SW38</text>
<line x1="106.66" y1="389.40" x2="106.66" y2="390.20" stroke="#999" stroke-width="0.35" />
<text transform="translate(107.51 390.90) rotate(-90)" font-size="2.6" fill="#505050" text-anchor="end" font-weight="normal" stroke="#505050" stroke-width="0.12">SW39</text>
<rect x="109.90" y="261.50" width="4.65" height="25.40" fill="#9191da" />
<rect x="109.90" y="286.90" width="4.65" height="5.10" fill="#9ab232" />
<rect x="109.90" y="292.00" width="4.65" height="5.00" fill="#d27ab8" />
<rect x="109.90" y="297.00" width="4.65" height="60.00" fill="#f08052" />
<rect x="109.90" y="357.00" width="4.65" height="21.75" fill="#52b244" />
<rect x="109.90" y="378.75" width="4.65" height="5.75" fill="#d27ab8" />
<line x1="109.90" y1="286.90" x2="114.55" y2="286.90" stroke="rgba(20,20,0,0.55)" stroke-width="0.7" />
<line x1="109.90" y1="292.00" x2="114.55" y2="292.00" stroke="rgba(20,20,0,0.55)" stroke-width="0.7" />
<line x1="109.90" y1="297.00" x2="114.55" y2="297.00" stroke="rgba(20,20,0,0.55)" stroke-width="0.7" />
<line x1="109.90" y1="357.00" x2="114.55" y2="357.00" stroke="rgba(20,20,0,0.55)" stroke-width="0.7" />
<line x1="109.90" y1="378.75" x2="114.55" y2="378.75" stroke="rgba(20,20,0,0.55)" stroke-width="0.7" />
<rect x="114.55" y="261.50" width="4.65" height="34.75" fill="#9191da" />
<rect x="114.55" y="296.25" width="4.65" height="22.50" fill="#42b28a" />
<rect x="114.55" y="318.75" width="4.65" height="5.65" fill="#ec6c8e" />
<rect x="114.55" y="324.40" width="4.65" height="5.60" fill="#e8922e" />
<rect x="114.55" y="330.00" width="4.65" height="27.50" fill="#52b244" />
<rect x="114.55" y="357.50" width="4.65" height="27.00" fill="#e676b6" />
<line x1="114.55" y1="296.25" x2="119.20" y2="296.25" stroke="rgba(20,20,0,0.55)" stroke-width="0.7" />
<line x1="114.55" y1="318.75" x2="119.20" y2="318.75" stroke="rgba(20,20,0,0.55)" stroke-width="0.7" />
<line x1="114.55" y1="324.40" x2="119.20" y2="324.40" stroke="rgba(20,20,0,0.55)" stroke-width="0.7" />
<line x1="114.55" y1="330.00" x2="119.20" y2="330.00" stroke="rgba(20,20,0,0.55)" stroke-width="0.7" />
<line x1="114.55" y1="357.50" x2="119.20" y2="357.50" stroke="rgba(20,20,0,0.55)" stroke-width="0.7" />
<rect x="119.20" y="261.50" width="4.65" height="28.50" fill="#9191da" />
<rect x="119.20" y="290.00" width="4.65" height="2.50" fill="#ec6c8e" />
<rect x="119.20" y="292.50" width="4.65" height="7.50" fill="#9ab232" />
<rect x="119.20" y="300.00" width="4.65" height="18.75" fill="#f08052" />
<rect x="119.20" y="318.75" width="4.65" height="11.25" fill="#e8922e" />
<rect x="119.20" y="330.00" width="4.65" height="41.25" fill="#52b244" />
<rect x="119.20" y="371.25" width="4.65" height="4.75" fill="#d27ab8" />
<rect x="119.20" y="376.00" width="4.65" height="8.50" fill="#42aee2" />
<line x1="119.20" y1="290.00" x2="123.85" y2="290.00" stroke="rgba(20,20,0,0.55)" stroke-width="0.7" />
<line x1="119.20" y1="292.50" x2="123.85" y2="292.50" stroke="rgba(20,20,0,0.55)" stroke-width="0.7" />
<line x1="119.20" y1="300.00" x2="123.85" y2="300.00" stroke="rgba(20,20,0,0.55)" stroke-width="0.7" />
<line x1="119.20" y1="318.75" x2="123.85" y2="318.75" stroke="rgba(20,20,0,0.55)" stroke-width="0.7" />
<line x1="119.20" y1="330.00" x2="123.85" y2="330.00" stroke="rgba(20,20,0,0.55)" stroke-width="0.7" />
<line x1="119.20" y1="371.25" x2="123.85" y2="371.25" stroke="rgba(20,20,0,0.55)" stroke-width="0.7" />
<line x1="119.20" y1="376.00" x2="123.85" y2="376.00" stroke="rgba(20,20,0,0.55)" stroke-width="0.7" />
<rect x="123.85" y="261.50" width="4.65" height="8.50" fill="#9191da" />
<rect x="123.85" y="270.00" width="4.65" height="12.50" fill="#c2a224" />
<rect x="123.85" y="282.50" width="4.65" height="4.40" fill="#32bccc" />
<rect x="123.85" y="286.90" width="4.65" height="34.35" fill="#9ab232" />
<rect x="123.85" y="321.25" width="4.65" height="4.75" fill="#d27ab8" />
<rect x="123.85" y="326.00" width="4.65" height="25.90" fill="#f08052" />
<rect x="123.85" y="351.90" width="4.65" height="26.10" fill="#52b244" />
<rect x="123.85" y="378.00" width="4.65" height="6.50" fill="#d27ab8" />
<line x1="123.85" y1="270.00" x2="128.50" y2="270.00" stroke="rgba(20,20,0,0.55)" stroke-width="0.7" />
<line x1="123.85" y1="282.50" x2="128.50" y2="282.50" stroke="rgba(20,20,0,0.55)" stroke-width="0.7" />
<line x1="123.85" y1="286.90" x2="128.50" y2="286.90" stroke="rgba(20,20,0,0.55)" stroke-width="0.7" />
<line x1="123.85" y1="321.25" x2="128.50" y2="321.25" stroke="rgba(20,20,0,0.55)" stroke-width="0.7" />
<line x1="123.85" y1="326.00" x2="128.50" y2="326.00" stroke="rgba(20,20,0,0.55)" stroke-width="0.7" />
<line x1="123.85" y1="351.90" x2="128.50" y2="351.90" stroke="rgba(20,20,0,0.55)" stroke-width="0.7" />
<line x1="123.85" y1="378.00" x2="128.50" y2="378.00" stroke="rgba(20,20,0,0.55)" stroke-width="0.7" />
<line x1="110.10" y1="261.50" x2="110.10" y2="384.50" stroke="rgba(20,20,0,0.55)" stroke-width="0.4" />
<line x1="114.55" y1="261.50" x2="114.55" y2="384.50" stroke="rgba(20,20,0,0.55)" stroke-width="0.75" />
<line x1="119.20" y1="261.50" x2="119.20" y2="384.50" stroke="rgba(20,20,0,0.55)" stroke-width="0.75" />
<line x1="123.85" y1="261.50" x2="123.85" y2="384.50" stroke="rgba(20,20,0,0.55)" stroke-width="0.75" />
<line x1="128.30" y1="261.50" x2="128.30" y2="384.50" stroke="rgba(20,20,0,0.55)" stroke-width="0.4" />
<line x1="109.90" y1="261.75" x2="128.50" y2="261.75" stroke="rgba(20,20,0,0.55)" stroke-width="0.5" />
<line x1="109.90" y1="384.25" x2="128.50" y2="384.25" stroke="rgba(20,20,0,0.55)" stroke-width="0.5" />
<rect x="110.15" y="384.95" width="18.10" height="4.40" fill="#fff" stroke="#222" stroke-width="0.5" />
<text transform="translate(119.20 388.05) scale(0.950 1)" font-size="2.5" fill="#1a1a1a" text-anchor="middle" font-weight="normal" >sea SW04</text>
<line x1="112.23" y1="389.40" x2="112.23" y2="390.20" stroke="#999" stroke-width="0.35" />
<text transform="translate(113.08 390.90) rotate(-90)" font-size="2.6" fill="#505050" text-anchor="end" font-weight="normal" stroke="#505050" stroke-width="0.12">SW41</text>
<line x1="116.88" y1="389.40" x2="116.88" y2="390.20" stroke="#999" stroke-width="0.35" />
<text transform="translate(117.72 390.90) rotate(-90)" font-size="2.6" fill="#505050" text-anchor="end" font-weight="normal" stroke="#505050" stroke-width="0.12">SW42</text>
<line x1="121.53" y1="389.40" x2="121.53" y2="390.20" stroke="#999" stroke-width="0.35" />
<text transform="translate(122.38 390.90) rotate(-90)" font-size="2.6" fill="#505050" text-anchor="end" font-weight="normal" stroke="#505050" stroke-width="0.12">SW43</text>
<line x1="126.17" y1="389.40" x2="126.17" y2="390.20" stroke="#999" stroke-width="0.35" />
<text transform="translate(127.02 390.90) rotate(-90)" font-size="2.6" fill="#505050" text-anchor="end" font-weight="normal" stroke="#505050" stroke-width="0.12">SW44</text>
<text transform="translate(132.20 288.40) scale(1.070 1)" font-size="3.8" fill="#2a2a2a" text-anchor="start" font-weight="normal" stroke="#2a2a2a" stroke-width="0.15">Genus</text>
<rect x="132.20" y="291.20" width="4.50" height="4.38" fill="#8a90d8" stroke="rgba(0,0,0,0.4)" stroke-width="0.35" />
<text transform="translate(138.40 294.69) scale(1.070 1)" font-size="3.3" fill="#1e1e1e" text-anchor="start" font-weight="normal" stroke="#1e1e1e" stroke-width="0.15">Others</text>
<rect x="132.20" y="295.58" width="4.50" height="4.38" fill="#5a9a40" stroke="rgba(0,0,0,0.4)" stroke-width="0.35" />
<text transform="translate(138.40 299.07) scale(1.070 1)" font-size="3.3" fill="#1e1e1e" text-anchor="start" font-weight="normal" stroke="#1e1e1e" stroke-width="0.15">g__Listeria</text>
<rect x="132.20" y="299.96" width="4.50" height="4.38" fill="#e07090" stroke="rgba(0,0,0,0.4)" stroke-width="0.35" />
<text transform="translate(138.40 303.45) scale(1.070 1)" font-size="3.3" fill="#1e1e1e" text-anchor="start" font-weight="normal" stroke="#1e1e1e" stroke-width="0.15">f__Methylophilaceae_g__</text>
<rect x="132.20" y="304.34" width="4.50" height="4.38" fill="#b0a020" stroke="rgba(0,0,0,0.4)" stroke-width="0.35" />
<text transform="translate(138.40 307.83) scale(1.070 1)" font-size="3.3" fill="#1e1e1e" text-anchor="start" font-weight="normal" stroke="#1e1e1e" stroke-width="0.15">g__Brevundimonas</text>
<rect x="132.20" y="308.72" width="4.50" height="4.38" fill="#40a090" stroke="rgba(0,0,0,0.4)" stroke-width="0.35" />
<text transform="translate(138.40 312.21) scale(1.070 1)" font-size="3.3" fill="#1e1e1e" text-anchor="start" font-weight="normal" stroke="#1e1e1e" stroke-width="0.15">g__Sphingomonas</text>
<rect x="132.20" y="313.10" width="4.50" height="4.38" fill="#30a8d0" stroke="rgba(0,0,0,0.4)" stroke-width="0.35" />
<text transform="translate(138.40 316.59) scale(1.070 1)" font-size="3.3" fill="#1e1e1e" text-anchor="start" font-weight="normal" stroke="#1e1e1e" stroke-width="0.15">g__Streptococcus</text>
<rect x="132.20" y="317.48" width="4.50" height="4.38" fill="#50b8e0" stroke="rgba(0,0,0,0.4)" stroke-width="0.35" />
<text transform="translate(138.40 320.97) scale(1.070 1)" font-size="3.3" fill="#1e1e1e" text-anchor="start" font-weight="normal" stroke="#1e1e1e" stroke-width="0.15">g__Staphylococcus</text>
<rect x="132.20" y="321.86" width="4.50" height="4.38" fill="#40a050" stroke="rgba(0,0,0,0.4)" stroke-width="0.35" />
<text transform="translate(138.40 325.35) scale(1.070 1)" font-size="3.3" fill="#1e1e1e" text-anchor="start" font-weight="normal" stroke="#1e1e1e" stroke-width="0.15">g__Sediminibacterium</text>
<rect x="132.20" y="326.24" width="4.50" height="4.38" fill="#90b040" stroke="rgba(0,0,0,0.4)" stroke-width="0.35" />
<text transform="translate(138.40 329.73) scale(1.070 1)" font-size="3.3" fill="#1e1e1e" text-anchor="start" font-weight="normal" stroke="#1e1e1e" stroke-width="0.15">g__Sphyllobacter</text>
<rect x="132.20" y="330.62" width="4.50" height="4.38" fill="#c080a8" stroke="rgba(0,0,0,0.4)" stroke-width="0.35" />
<text transform="translate(138.40 334.11) scale(1.070 1)" font-size="3.3" fill="#1e1e1e" text-anchor="start" font-weight="normal" stroke="#1e1e1e" stroke-width="0.15">f__Bradyrhizobiaceae__</text>
<rect x="132.20" y="335.00" width="4.50" height="4.38" fill="#9050c0" stroke="rgba(0,0,0,0.4)" stroke-width="0.35" />
<text transform="translate(138.40 338.49) scale(1.070 1)" font-size="3.3" fill="#1e1e1e" text-anchor="start" font-weight="normal" stroke="#1e1e1e" stroke-width="0.15">f__Enterobacteriaceae__</text>
<rect x="132.20" y="339.38" width="4.50" height="4.38" fill="#e06070" stroke="rgba(0,0,0,0.4)" stroke-width="0.35" />
<text transform="translate(138.40 342.87) scale(1.070 1)" font-size="3.3" fill="#1e1e1e" text-anchor="start" font-weight="normal" stroke="#1e1e1e" stroke-width="0.15">f__Rhizobiaceae__</text>
<rect x="132.20" y="343.76" width="4.50" height="4.38" fill="#e09040" stroke="rgba(0,0,0,0.4)" stroke-width="0.35" />
<text transform="translate(138.40 347.25) scale(1.070 1)" font-size="3.3" fill="#1e1e1e" text-anchor="start" font-weight="normal" stroke="#1e1e1e" stroke-width="0.15">g__Acinetobacter</text>
<rect x="132.20" y="348.14" width="4.50" height="4.38" fill="#40a040" stroke="rgba(0,0,0,0.4)" stroke-width="0.35" />
<text transform="translate(138.40 351.63) scale(1.070 1)" font-size="3.3" fill="#1e1e1e" text-anchor="start" font-weight="normal" stroke="#1e1e1e" stroke-width="0.15">g__Ochrobactrum</text>
<rect x="132.20" y="352.52" width="4.50" height="4.38" fill="#c070b0" stroke="rgba(0,0,0,0.4)" stroke-width="0.35" />
<text transform="translate(138.40 356.01) scale(1.070 1)" font-size="3.3" fill="#1e1e1e" text-anchor="start" font-weight="normal" stroke="#1e1e1e" stroke-width="0.15">f__Comamonadaceae__</text>
<rect x="132.20" y="356.90" width="4.50" height="4.38" fill="#3090b8" stroke="rgba(0,0,0,0.4)" stroke-width="0.35" />
<text transform="translate(138.40 360.39) scale(1.070 1)" font-size="3.3" fill="#1e1e1e" text-anchor="start" font-weight="normal" stroke="#1e1e1e" stroke-width="0.15">g__Stenotrophomonas</text>
<line x1="229.40" y1="261.50" x2="230.60" y2="261.50" stroke="#777" stroke-width="0.45" />
<text transform="translate(228.90 262.40) scale(1.330 1)" font-size="2.6" fill="#555" text-anchor="end" font-weight="normal" stroke="#555" stroke-width="0.12">1.00</text>
<line x1="229.40" y1="292.12" x2="230.60" y2="292.12" stroke="#777" stroke-width="0.45" />
<text transform="translate(228.90 293.02) scale(1.330 1)" font-size="2.6" fill="#555" text-anchor="end" font-weight="normal" stroke="#555" stroke-width="0.12">0.75</text>
<line x1="229.40" y1="322.75" x2="230.60" y2="322.75" stroke="#777" stroke-width="0.45" />
<text transform="translate(228.90 323.65) scale(1.330 1)" font-size="2.6" fill="#555" text-anchor="end" font-weight="normal" stroke="#555" stroke-width="0.12">0.50</text>
<line x1="229.40" y1="353.38" x2="230.60" y2="353.38" stroke="#777" stroke-width="0.45" />
<text transform="translate(228.90 354.27) scale(1.330 1)" font-size="2.6" fill="#555" text-anchor="end" font-weight="normal" stroke="#555" stroke-width="0.12">0.25</text>
<line x1="229.40" y1="384.00" x2="230.60" y2="384.00" stroke="#777" stroke-width="0.45" />
<text transform="translate(228.90 384.90) scale(1.330 1)" font-size="2.6" fill="#555" text-anchor="end" font-weight="normal" stroke="#555" stroke-width="0.12">0.00</text>
<text transform="translate(220.00 322.75) scale(1.100 1) rotate(-90)" font-size="4.0" fill="#111" text-anchor="middle" font-weight="bold" >Abundance</text>
<rect x="230.75" y="261.50" width="6.25" height="1.50" fill="#c482c4" />
<rect x="230.75" y="263.00" width="6.25" height="14.50" fill="#e47cba" />
<rect x="230.75" y="277.50" width="6.25" height="86.25" fill="#42b8d0" />
<rect x="230.75" y="363.75" width="6.25" height="20.25" fill="#44bea2" />
<line x1="230.75" y1="263.00" x2="237.00" y2="263.00" stroke="rgba(20,20,0,0.55)" stroke-width="0.7" />
<line x1="230.75" y1="277.50" x2="237.00" y2="277.50" stroke="rgba(20,20,0,0.55)" stroke-width="0.7" />
<line x1="230.75" y1="363.75" x2="237.00" y2="363.75" stroke="rgba(20,20,0,0.55)" stroke-width="0.7" />
<rect x="237.00" y="261.50" width="6.25" height="1.50" fill="#7a3048" />
<rect x="237.00" y="263.00" width="6.25" height="4.00" fill="#e47cba" />
<rect x="237.00" y="267.00" width="6.25" height="1.75" fill="#f06c92" />
<rect x="237.00" y="268.75" width="6.25" height="45.65" fill="#e47cba" />
<rect x="237.00" y="314.40" width="6.25" height="69.60" fill="#44bea2" />
<line x1="237.00" y1="263.00" x2="243.25" y2="263.00" stroke="rgba(20,20,0,0.55)" stroke-width="0.7" />
<line x1="237.00" y1="267.00" x2="243.25" y2="267.00" stroke="rgba(20,20,0,0.55)" stroke-width="0.7" />
<line x1="237.00" y1="268.75" x2="243.25" y2="268.75" stroke="rgba(20,20,0,0.55)" stroke-width="0.7" />
<line x1="237.00" y1="314.40" x2="243.25" y2="314.40" stroke="rgba(20,20,0,0.55)" stroke-width="0.7" />
<rect x="243.25" y="261.50" width="6.25" height="12.90" fill="#9191da" />
<rect x="243.25" y="274.40" width="6.25" height="15.00" fill="#e2a232" />
<rect x="243.25" y="289.40" width="6.25" height="23.60" fill="#e47cba" />
<rect x="243.25" y="313.00" width="6.25" height="71.00" fill="#44bea2" />
<line x1="243.25" y1="274.40" x2="249.50" y2="274.40" stroke="rgba(20,20,0,0.55)" stroke-width="0.7" />
<line x1="243.25" y1="289.40" x2="249.50" y2="289.40" stroke="rgba(20,20,0,0.55)" stroke-width="0.7" />
<line x1="243.25" y1="313.00" x2="249.50" y2="313.00" stroke="rgba(20,20,0,0.55)" stroke-width="0.7" />
<rect x="249.50" y="261.50" width="6.25" height="4.75" fill="#9191da" />
<rect x="249.50" y="266.25" width="6.25" height="3.15" fill="#a4aa32" />
<rect x="249.50" y="269.40" width="6.25" height="29.35" fill="#e47cba" />
<rect x="249.50" y="298.75" width="6.25" height="85.25" fill="#44bea2" />
<line x1="249.50" y1="266.25" x2="255.75" y2="266.25" stroke="rgba(20,20,0,0.55)" stroke-width="0.7" />
<line x1="249.50" y1="269.40" x2="255.75" y2="269.40" stroke="rgba(20,20,0,0.55)" stroke-width="0.7" />
<line x1="249.50" y1="298.75" x2="255.75" y2="298.75" stroke="rgba(20,20,0,0.55)" stroke-width="0.7" />
<line x1="230.95" y1="261.50" x2="230.95" y2="384.00" stroke="rgba(20,20,0,0.55)" stroke-width="0.4" />
<line x1="237.00" y1="261.50" x2="237.00" y2="384.00" stroke="rgba(20,20,0,0.55)" stroke-width="0.75" />
<line x1="243.25" y1="261.50" x2="243.25" y2="384.00" stroke="rgba(20,20,0,0.55)" stroke-width="0.75" />
<line x1="249.50" y1="261.50" x2="249.50" y2="384.00" stroke="rgba(20,20,0,0.55)" stroke-width="0.75" />
<line x1="255.55" y1="261.50" x2="255.55" y2="384.00" stroke="rgba(20,20,0,0.55)" stroke-width="0.4" />
<line x1="230.75" y1="261.75" x2="255.75" y2="261.75" stroke="rgba(20,20,0,0.55)" stroke-width="0.5" />
<line x1="230.75" y1="383.75" x2="255.75" y2="383.75" stroke="rgba(20,20,0,0.55)" stroke-width="0.5" />
<rect x="231.00" y="384.45" width="24.50" height="4.40" fill="#fff" stroke="#222" stroke-width="0.5" />
<text transform="translate(243.25 387.55) scale(1.264 1)" font-size="2.5" fill="#1a1a1a" text-anchor="middle" font-weight="normal" >services SW01</text>
<line x1="233.88" y1="388.90" x2="233.88" y2="389.70" stroke="#999" stroke-width="0.35" />
<text transform="translate(235.01 390.40) scale(1.330 1) rotate(-90)" font-size="2.6" fill="#505050" text-anchor="end" font-weight="normal" stroke="#505050" stroke-width="0.12">SW11</text>
<line x1="240.12" y1="388.90" x2="240.12" y2="389.70" stroke="#999" stroke-width="0.35" />
<text transform="translate(241.26 390.40) scale(1.330 1) rotate(-90)" font-size="2.6" fill="#505050" text-anchor="end" font-weight="normal" stroke="#505050" stroke-width="0.12">SW12</text>
<line x1="246.38" y1="388.90" x2="246.38" y2="389.70" stroke="#999" stroke-width="0.35" />
<text transform="translate(247.51 390.40) scale(1.330 1) rotate(-90)" font-size="2.6" fill="#505050" text-anchor="end" font-weight="normal" stroke="#505050" stroke-width="0.12">SW13</text>
<line x1="252.62" y1="388.90" x2="252.62" y2="389.70" stroke="#999" stroke-width="0.35" />
<text transform="translate(253.76 390.40) scale(1.330 1) rotate(-90)" font-size="2.6" fill="#505050" text-anchor="end" font-weight="normal" stroke="#505050" stroke-width="0.12">SW14</text>
<rect x="256.75" y="261.50" width="6.12" height="15.40" fill="#9191da" />
<rect x="256.75" y="276.90" width="6.12" height="3.70" fill="#e2a232" />
<rect x="256.75" y="280.60" width="6.12" height="5.65" fill="#e47cba" />
<rect x="256.75" y="286.25" width="6.12" height="5.00" fill="#44b272" />
<rect x="256.75" y="291.25" width="6.12" height="8.75" fill="#c482c4" />
<rect x="256.75" y="300.00" width="6.12" height="53.75" fill="#42b8d0" />
<rect x="256.75" y="353.75" width="6.12" height="30.25" fill="#44bea2" />
<line x1="256.75" y1="276.90" x2="262.88" y2="276.90" stroke="rgba(20,20,0,0.55)" stroke-width="0.7" />
<line x1="256.75" y1="280.60" x2="262.88" y2="280.60" stroke="rgba(20,20,0,0.55)" stroke-width="0.7" />
<line x1="256.75" y1="286.25" x2="262.88" y2="286.25" stroke="rgba(20,20,0,0.55)" stroke-width="0.7" />
<line x1="256.75" y1="291.25" x2="262.88" y2="291.25" stroke="rgba(20,20,0,0.55)" stroke-width="0.7" />
<line x1="256.75" y1="300.00" x2="262.88" y2="300.00" stroke="rgba(20,20,0,0.55)" stroke-width="0.7" />
<line x1="256.75" y1="353.75" x2="262.88" y2="353.75" stroke="rgba(20,20,0,0.55)" stroke-width="0.7" />
<rect x="262.88" y="261.50" width="6.12" height="1.50" fill="#5a7a30" />
<rect x="262.88" y="263.00" width="6.12" height="22.60" fill="#a8c232" />
<rect x="262.88" y="285.60" width="6.12" height="55.65" fill="#e47cba" />
<rect x="262.88" y="341.25" width="6.12" height="42.75" fill="#44bea2" />
<line x1="262.88" y1="263.00" x2="269.00" y2="263.00" stroke="rgba(20,20,0,0.55)" stroke-width="0.7" />
<line x1="262.88" y1="285.60" x2="269.00" y2="285.60" stroke="rgba(20,20,0,0.55)" stroke-width="0.7" />
<line x1="262.88" y1="341.25" x2="269.00" y2="341.25" stroke="rgba(20,20,0,0.55)" stroke-width="0.7" />
<rect x="269.00" y="261.50" width="6.12" height="5.40" fill="#9191da" />
<rect x="269.00" y="266.90" width="6.12" height="6.85" fill="#f06c92" />
<rect x="269.00" y="273.75" width="6.12" height="2.50" fill="#44aa62" />
<rect x="269.00" y="276.25" width="6.12" height="8.75" fill="#e47cba" />
<rect x="269.00" y="285.00" width="6.12" height="80.60" fill="#42b8d0" />
<rect x="269.00" y="365.60" width="6.12" height="18.40" fill="#44bea2" />
<line x1="269.00" y1="266.90" x2="275.12" y2="266.90" stroke="rgba(20,20,0,0.55)" stroke-width="0.7" />
<line x1="269.00" y1="273.75" x2="275.12" y2="273.75" stroke="rgba(20,20,0,0.55)" stroke-width="0.7" />
<line x1="269.00" y1="276.25" x2="275.12" y2="276.25" stroke="rgba(20,20,0,0.55)" stroke-width="0.7" />
<line x1="269.00" y1="285.00" x2="275.12" y2="285.00" stroke="rgba(20,20,0,0.55)" stroke-width="0.7" />
<line x1="269.00" y1="365.60" x2="275.12" y2="365.60" stroke="rgba(20,20,0,0.55)" stroke-width="0.7" />
<rect x="275.12" y="261.50" width="6.12" height="2.25" fill="#7a3048" />
<rect x="275.12" y="263.75" width="6.12" height="21.25" fill="#f06c92" />
<rect x="275.12" y="285.00" width="6.12" height="58.75" fill="#e47cba" />
<rect x="275.12" y="343.75" width="6.12" height="5.25" fill="#42b8d0" />
<rect x="275.12" y="349.00" width="6.12" height="35.00" fill="#44bea2" />
<line x1="275.12" y1="263.75" x2="281.25" y2="263.75" stroke="rgba(20,20,0,0.55)" stroke-width="0.7" />
<line x1="275.12" y1="285.00" x2="281.25" y2="285.00" stroke="rgba(20,20,0,0.55)" stroke-width="0.7" />
<line x1="275.12" y1="343.75" x2="281.25" y2="343.75" stroke="rgba(20,20,0,0.55)" stroke-width="0.7" />
<line x1="275.12" y1="349.00" x2="281.25" y2="349.00" stroke="rgba(20,20,0,0.55)" stroke-width="0.7" />
<line x1="256.95" y1="261.50" x2="256.95" y2="384.00" stroke="rgba(20,20,0,0.55)" stroke-width="0.4" />
<line x1="262.88" y1="261.50" x2="262.88" y2="384.00" stroke="rgba(20,20,0,0.55)" stroke-width="0.75" />
<line x1="269.00" y1="261.50" x2="269.00" y2="384.00" stroke="rgba(20,20,0,0.55)" stroke-width="0.75" />
<line x1="275.12" y1="261.50" x2="275.12" y2="384.00" stroke="rgba(20,20,0,0.55)" stroke-width="0.75" />
<line x1="281.05" y1="261.50" x2="281.05" y2="384.00" stroke="rgba(20,20,0,0.55)" stroke-width="0.4" />
<line x1="256.75" y1="261.75" x2="281.25" y2="261.75" stroke="rgba(20,20,0,0.55)" stroke-width="0.5" />
<line x1="256.75" y1="383.75" x2="281.25" y2="383.75" stroke="rgba(20,20,0,0.55)" stroke-width="0.5" />
<rect x="257.00" y="384.45" width="24.00" height="4.40" fill="#fff" stroke="#222" stroke-width="0.5" />
<text transform="translate(269.00 387.55) scale(1.264 1)" font-size="2.5" fill="#1a1a1a" text-anchor="middle" font-weight="normal" >seafoodsite SW02</text>
<line x1="259.81" y1="388.90" x2="259.81" y2="389.70" stroke="#999" stroke-width="0.35" />
<text transform="translate(260.94 390.40) scale(1.330 1) rotate(-90)" font-size="2.6" fill="#505050" text-anchor="end" font-weight="normal" stroke="#505050" stroke-width="0.12">SW21</text>
<line x1="265.94" y1="388.90" x2="265.94" y2="389.70" stroke="#999" stroke-width="0.35" />
<text transform="translate(267.07 390.40) scale(1.330 1) rotate(-90)" font-size="2.6" fill="#505050" text-anchor="end" font-weight="normal" stroke="#505050" stroke-width="0.12">SW22</text>
<line x1="272.06" y1="388.90" x2="272.06" y2="389.70" stroke="#999" stroke-width="0.35" />
<text transform="translate(273.19 390.40) scale(1.330 1) rotate(-90)" font-size="2.6" fill="#505050" text-anchor="end" font-weight="normal" stroke="#505050" stroke-width="0.12">SW23</text>
<line x1="278.19" y1="388.90" x2="278.19" y2="389.70" stroke="#999" stroke-width="0.35" />
<text transform="translate(279.32 390.40) scale(1.330 1) rotate(-90)" font-size="2.6" fill="#505050" text-anchor="end" font-weight="normal" stroke="#505050" stroke-width="0.12">SW24</text>
<rect x="282.25" y="261.50" width="6.16" height="6.00" fill="#9191da" />
<rect x="282.25" y="267.50" width="6.16" height="4.50" fill="#c482c4" />
<rect x="282.25" y="272.00" width="6.16" height="4.25" fill="#f06c92" />
<rect x="282.25" y="276.25" width="6.16" height="34.75" fill="#52b244" />
<rect x="282.25" y="311.00" width="6.16" height="2.00" fill="#f06c92" />
<rect x="282.25" y="313.00" width="6.16" height="36.00" fill="#42aae2" />
<rect x="282.25" y="349.00" width="6.16" height="17.25" fill="#52b244" />
<rect x="282.25" y="366.25" width="6.16" height="7.50" fill="#f28254" />
<rect x="282.25" y="373.75" width="6.16" height="6.85" fill="#e2a232" />
<rect x="282.25" y="380.60" width="6.16" height="3.40" fill="#c482c4" />
<line x1="282.25" y1="267.50" x2="288.41" y2="267.50" stroke="rgba(20,20,0,0.55)" stroke-width="0.7" />
<line x1="282.25" y1="272.00" x2="288.41" y2="272.00" stroke="rgba(20,20,0,0.55)" stroke-width="0.7" />
<line x1="282.25" y1="276.25" x2="288.41" y2="276.25" stroke="rgba(20,20,0,0.55)" stroke-width="0.7" />
<line x1="282.25" y1="311.00" x2="288.41" y2="311.00" stroke="rgba(20,20,0,0.55)" stroke-width="0.7" />
<line x1="282.25" y1="313.00" x2="288.41" y2="313.00" stroke="rgba(20,20,0,0.55)" stroke-width="0.7" />
<line x1="282.25" y1="349.00" x2="288.41" y2="349.00" stroke="rgba(20,20,0,0.55)" stroke-width="0.7" />
<line x1="282.25" y1="366.25" x2="288.41" y2="366.25" stroke="rgba(20,20,0,0.55)" stroke-width="0.7" />
<line x1="282.25" y1="373.75" x2="288.41" y2="373.75" stroke="rgba(20,20,0,0.55)" stroke-width="0.7" />
<line x1="282.25" y1="380.60" x2="288.41" y2="380.60" stroke="rgba(20,20,0,0.55)" stroke-width="0.7" />
<rect x="288.41" y="261.50" width="6.16" height="4.75" fill="#9191da" />
<rect x="288.41" y="266.25" width="6.16" height="3.75" fill="#f06c92" />
<rect x="288.41" y="270.00" width="6.16" height="6.25" fill="#f28254" />
<rect x="288.41" y="276.25" width="6.16" height="9.35" fill="#e2a232" />
<rect x="288.41" y="285.60" width="6.16" height="16.90" fill="#42b8d0" />
<rect x="288.41" y="302.50" width="6.16" height="81.50" fill="#44bea2" />
<line x1="288.41" y1="266.25" x2="294.58" y2="266.25" stroke="rgba(20,20,0,0.55)" stroke-width="0.7" />
<line x1="288.41" y1="270.00" x2="294.58" y2="270.00" stroke="rgba(20,20,0,0.55)" stroke-width="0.7" />
<line x1="288.41" y1="276.25" x2="294.58" y2="276.25" stroke="rgba(20,20,0,0.55)" stroke-width="0.7" />
<line x1="288.41" y1="285.60" x2="294.58" y2="285.60" stroke="rgba(20,20,0,0.55)" stroke-width="0.7" />
<line x1="288.41" y1="302.50" x2="294.58" y2="302.50" stroke="rgba(20,20,0,0.55)" stroke-width="0.7" />
<rect x="294.57" y="261.50" width="6.16" height="8.50" fill="#9191da" />
<rect x="294.57" y="270.00" width="6.16" height="5.00" fill="#c482c4" />
<rect x="294.57" y="275.00" width="6.16" height="16.25" fill="#f28254" />
<rect x="294.57" y="291.25" width="6.16" height="27.50" fill="#e2a232" />
<rect x="294.57" y="318.75" width="6.16" height="65.25" fill="#42b8d0" />
<line x1="294.57" y1="270.00" x2="300.74" y2="270.00" stroke="rgba(20,20,0,0.55)" stroke-width="0.7" />
<line x1="294.57" y1="275.00" x2="300.74" y2="275.00" stroke="rgba(20,20,0,0.55)" stroke-width="0.7" />
<line x1="294.57" y1="291.25" x2="300.74" y2="291.25" stroke="rgba(20,20,0,0.55)" stroke-width="0.7" />
<line x1="294.57" y1="318.75" x2="300.74" y2="318.75" stroke="rgba(20,20,0,0.55)" stroke-width="0.7" />
<rect x="300.74" y="261.50" width="6.16" height="2.50" fill="#7a3048" />
<rect x="300.74" y="264.00" width="6.16" height="74.75" fill="#44bea2" />
<rect x="300.74" y="338.75" width="6.16" height="25.00" fill="#e47cba" />
<rect x="300.74" y="363.75" width="6.16" height="20.25" fill="#44bea2" />
<line x1="300.74" y1="264.00" x2="306.90" y2="264.00" stroke="rgba(20,20,0,0.55)" stroke-width="0.7" />
<line x1="300.74" y1="338.75" x2="306.90" y2="338.75" stroke="rgba(20,20,0,0.55)" stroke-width="0.7" />
<line x1="300.74" y1="363.75" x2="306.90" y2="363.75" stroke="rgba(20,20,0,0.55)" stroke-width="0.7" />
<line x1="282.45" y1="261.50" x2="282.45" y2="384.00" stroke="rgba(20,20,0,0.55)" stroke-width="0.4" />
<line x1="288.41" y1="261.50" x2="288.41" y2="384.00" stroke="rgba(20,20,0,0.55)" stroke-width="0.75" />
<line x1="294.57" y1="261.50" x2="294.57" y2="384.00" stroke="rgba(20,20,0,0.55)" stroke-width="0.75" />
<line x1="300.74" y1="261.50" x2="300.74" y2="384.00" stroke="rgba(20,20,0,0.55)" stroke-width="0.75" />
<line x1="306.70" y1="261.50" x2="306.70" y2="384.00" stroke="rgba(20,20,0,0.55)" stroke-width="0.4" />
<line x1="282.25" y1="261.75" x2="306.90" y2="261.75" stroke="rgba(20,20,0,0.55)" stroke-width="0.5" />
<line x1="282.25" y1="383.75" x2="306.90" y2="383.75" stroke="rgba(20,20,0,0.55)" stroke-width="0.5" />
<rect x="282.50" y="384.45" width="24.15" height="4.40" fill="#fff" stroke="#222" stroke-width="0.5" />
<text transform="translate(294.57 387.55) scale(1.264 1)" font-size="2.5" fill="#1a1a1a" text-anchor="middle" font-weight="normal" >solid SW03</text>
<line x1="285.33" y1="388.90" x2="285.33" y2="389.70" stroke="#999" stroke-width="0.35" />
<text transform="translate(286.46 390.40) scale(1.330 1) rotate(-90)" font-size="2.6" fill="#505050" text-anchor="end" font-weight="normal" stroke="#505050" stroke-width="0.12">SW31</text>
<line x1="291.49" y1="388.90" x2="291.49" y2="389.70" stroke="#999" stroke-width="0.35" />
<text transform="translate(292.62 390.40) scale(1.330 1) rotate(-90)" font-size="2.6" fill="#505050" text-anchor="end" font-weight="normal" stroke="#505050" stroke-width="0.12">SW32</text>
<line x1="297.66" y1="388.90" x2="297.66" y2="389.70" stroke="#999" stroke-width="0.35" />
<text transform="translate(298.79 390.40) scale(1.330 1) rotate(-90)" font-size="2.6" fill="#505050" text-anchor="end" font-weight="normal" stroke="#505050" stroke-width="0.12">SW33</text>
<line x1="303.82" y1="388.90" x2="303.82" y2="389.70" stroke="#999" stroke-width="0.35" />
<text transform="translate(304.95 390.40) scale(1.330 1) rotate(-90)" font-size="2.6" fill="#505050" text-anchor="end" font-weight="normal" stroke="#505050" stroke-width="0.12">SW34</text>
<rect x="307.90" y="261.50" width="6.37" height="14.75" fill="#9191da" />
<rect x="307.90" y="276.25" width="6.37" height="18.75" fill="#f06c92" />
<rect x="307.90" y="295.00" width="6.37" height="22.50" fill="#52b244" />
<rect x="307.90" y="317.50" width="6.37" height="29.50" fill="#f28254" />
<rect x="307.90" y="347.00" width="6.37" height="24.25" fill="#e2a232" />
<rect x="307.90" y="371.25" width="6.37" height="12.75" fill="#c482c4" />
<line x1="307.90" y1="276.25" x2="314.27" y2="276.25" stroke="rgba(20,20,0,0.55)" stroke-width="0.7" />
<line x1="307.90" y1="295.00" x2="314.27" y2="295.00" stroke="rgba(20,20,0,0.55)" stroke-width="0.7" />
<line x1="307.90" y1="317.50" x2="314.27" y2="317.50" stroke="rgba(20,20,0,0.55)" stroke-width="0.7" />
<line x1="307.90" y1="347.00" x2="314.27" y2="347.00" stroke="rgba(20,20,0,0.55)" stroke-width="0.7" />
<line x1="307.90" y1="371.25" x2="314.27" y2="371.25" stroke="rgba(20,20,0,0.55)" stroke-width="0.7" />
<rect x="314.27" y="261.50" width="6.37" height="1.50" fill="#9191da" />
<rect x="314.27" y="263.00" width="6.37" height="17.00" fill="#42aae2" />
<rect x="314.27" y="280.00" width="6.37" height="2.50" fill="#f06c92" />
<rect x="314.27" y="282.50" width="6.37" height="71.25" fill="#44b272" />
<rect x="314.27" y="353.75" width="6.37" height="30.25" fill="#42aae2" />
<line x1="314.27" y1="263.00" x2="320.63" y2="263.00" stroke="rgba(20,20,0,0.55)" stroke-width="0.7" />
<line x1="314.27" y1="280.00" x2="320.63" y2="280.00" stroke="rgba(20,20,0,0.55)" stroke-width="0.7" />
<line x1="314.27" y1="282.50" x2="320.63" y2="282.50" stroke="rgba(20,20,0,0.55)" stroke-width="0.7" />
<line x1="314.27" y1="353.75" x2="320.63" y2="353.75" stroke="rgba(20,20,0,0.55)" stroke-width="0.7" />
<rect x="320.63" y="261.50" width="6.37" height="18.50" fill="#9191da" />
<rect x="320.63" y="280.00" width="6.37" height="15.00" fill="#e2a232" />
<rect x="320.63" y="295.00" width="6.37" height="11.25" fill="#c482c4" />
<rect x="320.63" y="306.25" width="6.37" height="23.15" fill="#3c94e0" />
<rect x="320.63" y="329.40" width="6.37" height="18.60" fill="#52b244" />
<rect x="320.63" y="348.00" width="6.37" height="22.60" fill="#f28254" />
<rect x="320.63" y="370.60" width="6.37" height="13.40" fill="#e2a232" />
<line x1="320.63" y1="280.00" x2="327.00" y2="280.00" stroke="rgba(20,20,0,0.55)" stroke-width="0.7" />
<line x1="320.63" y1="295.00" x2="327.00" y2="295.00" stroke="rgba(20,20,0,0.55)" stroke-width="0.7" />
<line x1="320.63" y1="306.25" x2="327.00" y2="306.25" stroke="rgba(20,20,0,0.55)" stroke-width="0.7" />
<line x1="320.63" y1="329.40" x2="327.00" y2="329.40" stroke="rgba(20,20,0,0.55)" stroke-width="0.7" />
<line x1="320.63" y1="348.00" x2="327.00" y2="348.00" stroke="rgba(20,20,0,0.55)" stroke-width="0.7" />
<line x1="320.63" y1="370.60" x2="327.00" y2="370.60" stroke="rgba(20,20,0,0.55)" stroke-width="0.7" />
<line x1="308.10" y1="261.50" x2="308.10" y2="384.00" stroke="rgba(20,20,0,0.55)" stroke-width="0.4" />
<line x1="314.27" y1="261.50" x2="314.27" y2="384.00" stroke="rgba(20,20,0,0.55)" stroke-width="0.75" />
<line x1="320.63" y1="261.50" x2="320.63" y2="384.00" stroke="rgba(20,20,0,0.55)" stroke-width="0.75" />
<line x1="326.80" y1="261.50" x2="326.80" y2="384.00" stroke="rgba(20,20,0,0.55)" stroke-width="0.4" />
<line x1="307.90" y1="261.75" x2="327.00" y2="261.75" stroke="rgba(20,20,0,0.55)" stroke-width="0.5" />
<line x1="307.90" y1="383.75" x2="327.00" y2="383.75" stroke="rgba(20,20,0,0.55)" stroke-width="0.5" />
<rect x="308.15" y="384.45" width="18.60" height="4.40" fill="#fff" stroke="#222" stroke-width="0.5" />
<text transform="translate(317.45 387.55) scale(1.264 1)" font-size="2.5" fill="#1a1a1a" text-anchor="middle" font-weight="normal" >sea SW04</text>
<line x1="311.08" y1="388.90" x2="311.08" y2="389.70" stroke="#999" stroke-width="0.35" />
<text transform="translate(312.21 390.40) scale(1.330 1) rotate(-90)" font-size="2.6" fill="#505050" text-anchor="end" font-weight="normal" stroke="#505050" stroke-width="0.12">SW41</text>
<line x1="317.45" y1="388.90" x2="317.45" y2="389.70" stroke="#999" stroke-width="0.35" />
<text transform="translate(318.58 390.40) scale(1.330 1) rotate(-90)" font-size="2.6" fill="#505050" text-anchor="end" font-weight="normal" stroke="#505050" stroke-width="0.12">SW42</text>
<line x1="323.82" y1="388.90" x2="323.82" y2="389.70" stroke="#999" stroke-width="0.35" />
<text transform="translate(324.95 390.40) scale(1.330 1) rotate(-90)" font-size="2.6" fill="#505050" text-anchor="end" font-weight="normal" stroke="#505050" stroke-width="0.12">SW43</text>
<text transform="translate(332.00 288.20) scale(1.340 1)" font-size="3.8" fill="#2a2a2a" text-anchor="start" font-weight="normal" stroke="#2a2a2a" stroke-width="0.15">Genus</text>
<rect x="332.00" y="291.30" width="4.70" height="4.38" fill="#9191da" stroke="rgba(0,0,0,0.4)" stroke-width="0.35" />
<text transform="translate(339.80 294.79) scale(1.340 1)" font-size="3.3" fill="#1e1e1e" text-anchor="start" font-weight="normal" stroke="#1e1e1e" stroke-width="0.15">Others</text>
<rect x="332.00" y="295.68" width="4.70" height="4.38" fill="#e2a232" stroke="rgba(0,0,0,0.4)" stroke-width="0.35" />
<text transform="translate(339.80 299.17) scale(1.340 1)" font-size="3.3" fill="#1e1e1e" text-anchor="start" font-weight="normal" stroke="#1e1e1e" stroke-width="0.15">g__Brevundimonas</text>
<rect x="332.00" y="300.06" width="4.70" height="4.38" fill="#42aae2" stroke="rgba(0,0,0,0.4)" stroke-width="0.35" />
<text transform="translate(339.80 303.55) scale(1.340 1)" font-size="3.3" fill="#1e1e1e" text-anchor="start" font-weight="normal" stroke="#1e1e1e" stroke-width="0.15">g__Ureaplasma</text>
<rect x="332.00" y="304.44" width="4.70" height="4.38" fill="#c482c4" stroke="rgba(0,0,0,0.4)" stroke-width="0.35" />
<text transform="translate(339.80 307.93) scale(1.340 1)" font-size="3.3" fill="#1e1e1e" text-anchor="start" font-weight="normal" stroke="#1e1e1e" stroke-width="0.15">f__Bradyrhizobiaceae__</text>
<rect x="332.00" y="308.82" width="4.70" height="4.38" fill="#a4aa32" stroke="rgba(0,0,0,0.4)" stroke-width="0.35" />
<text transform="translate(339.80 312.31) scale(1.340 1)" font-size="3.3" fill="#1e1e1e" text-anchor="start" font-weight="normal" stroke="#1e1e1e" stroke-width="0.15">g__Pseudomonas</text>
<rect x="332.00" y="313.20" width="4.70" height="4.38" fill="#e47cba" stroke="rgba(0,0,0,0.4)" stroke-width="0.35" />
<text transform="translate(339.80 316.69) scale(1.340 1)" font-size="3.3" fill="#1e1e1e" text-anchor="start" font-weight="normal" stroke="#1e1e1e" stroke-width="0.15">f__Enterobacteriaceae__</text>
<rect x="332.00" y="317.58" width="4.70" height="4.38" fill="#52b244" stroke="rgba(0,0,0,0.4)" stroke-width="0.35" />
<text transform="translate(339.80 321.07) scale(1.340 1)" font-size="3.3" fill="#1e1e1e" text-anchor="start" font-weight="normal" stroke="#1e1e1e" stroke-width="0.15">g__Sediminibacterium</text>
<rect x="332.00" y="321.96" width="4.70" height="4.38" fill="#f06c92" stroke="rgba(0,0,0,0.4)" stroke-width="0.35" />
<text transform="translate(339.80 325.45) scale(1.340 1)" font-size="3.3" fill="#1e1e1e" text-anchor="start" font-weight="normal" stroke="#1e1e1e" stroke-width="0.15">f__Methylophilaceae_g__</text>
<rect x="332.00" y="326.34" width="4.70" height="4.38" fill="#3a90e0" stroke="rgba(0,0,0,0.4)" stroke-width="0.35" />
<text transform="translate(339.80 329.83) scale(1.340 1)" font-size="3.3" fill="#1e1e1e" text-anchor="start" font-weight="normal" stroke="#1e1e1e" stroke-width="0.15">o__MLE1-12__</text>
<rect x="332.00" y="330.72" width="4.70" height="4.38" fill="#44aa62" stroke="rgba(0,0,0,0.4)" stroke-width="0.35" />
<text transform="translate(339.80 334.21) scale(1.340 1)" font-size="3.3" fill="#1e1e1e" text-anchor="start" font-weight="normal" stroke="#1e1e1e" stroke-width="0.15">g__Sphingomonas</text>
<rect x="332.00" y="335.10" width="4.70" height="4.38" fill="#f28254" stroke="rgba(0,0,0,0.4)" stroke-width="0.35" />
<text transform="translate(339.80 338.59) scale(1.340 1)" font-size="3.3" fill="#1e1e1e" text-anchor="start" font-weight="normal" stroke="#1e1e1e" stroke-width="0.15">f__Rhizobiaceae__</text>
<rect x="332.00" y="339.48" width="4.70" height="4.38" fill="#e0a030" stroke="rgba(0,0,0,0.4)" stroke-width="0.35" />
<text transform="translate(339.80 342.97) scale(1.340 1)" font-size="3.3" fill="#1e1e1e" text-anchor="start" font-weight="normal" stroke="#1e1e1e" stroke-width="0.15">g__Ochrobactrum</text>
<rect x="332.00" y="343.86" width="4.70" height="4.38" fill="#44b272" stroke="rgba(0,0,0,0.4)" stroke-width="0.35" />
<text transform="translate(339.80 347.35) scale(1.340 1)" font-size="3.3" fill="#1e1e1e" text-anchor="start" font-weight="normal" stroke="#1e1e1e" stroke-width="0.15">g__Staphylococcus</text>
<rect x="332.00" y="348.24" width="4.70" height="4.38" fill="#d070c0" stroke="rgba(0,0,0,0.4)" stroke-width="0.35" />
<text transform="translate(339.80 351.73) scale(1.340 1)" font-size="3.3" fill="#1e1e1e" text-anchor="start" font-weight="normal" stroke="#1e1e1e" stroke-width="0.15">f__Comamonadaceae__</text>
<rect x="332.00" y="352.62" width="4.70" height="4.38" fill="#42b8d0" stroke="rgba(0,0,0,0.4)" stroke-width="0.35" />
<text transform="translate(339.80 356.11) scale(1.340 1)" font-size="3.3" fill="#1e1e1e" text-anchor="start" font-weight="normal" stroke="#1e1e1e" stroke-width="0.15">g__Streptococcus</text>
<rect x="332.00" y="357.00" width="4.70" height="4.38" fill="#44bea2" stroke="rgba(0,0,0,0.4)" stroke-width="0.35" />
<text transform="translate(339.80 360.49) scale(1.340 1)" font-size="3.3" fill="#1e1e1e" text-anchor="start" font-weight="normal" stroke="#1e1e1e" stroke-width="0.15">g__Stenotrophomonas</text>
</svg>
</body></html>
